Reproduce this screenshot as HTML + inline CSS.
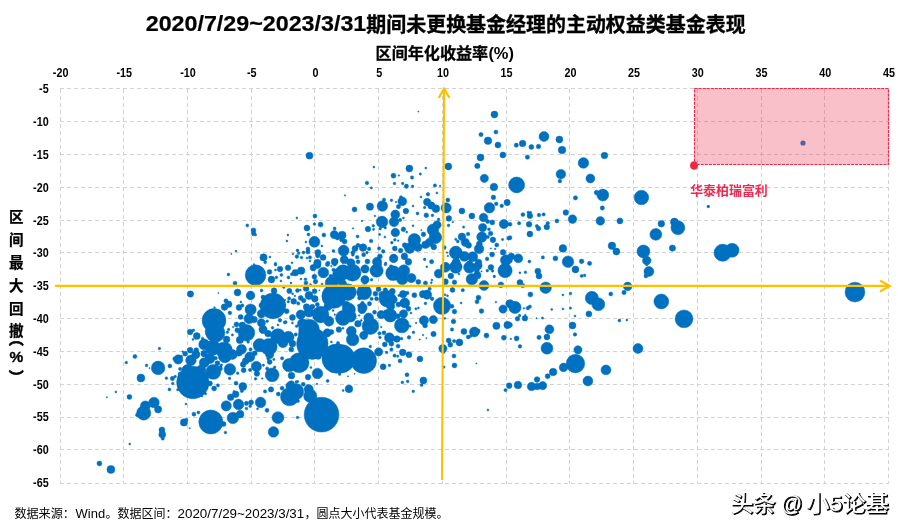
<!DOCTYPE html>
<html lang="zh-CN">
<head>
<meta charset="utf-8">
<title>2020/7/29~2023/3/31期间未更换基金经理的主动权益类基金表现</title>
<style>
html,body{margin:0;padding:0;background:#fff;}
body{width:905px;height:531px;overflow:hidden;position:relative;font-family:"Liberation Sans","Noto Sans CJK SC",sans-serif;}
svg{position:absolute;left:0;top:0;display:block;}
.t{font-family:"Liberation Sans","Noto Sans CJK SC",sans-serif;}
.tick{font-family:"Liberation Sans","Noto Sans CJK SC",sans-serif;font-weight:bold;font-size:12px;fill:#000;}
.grid line{stroke:#d2d2d2;stroke-width:1;stroke-dasharray:4 3;shape-rendering:crispEdges;}
</style>
</head>
<body>
<svg width="905" height="531" viewBox="0 0 905 531">
<rect x="0" y="0" width="905" height="531" fill="#ffffff"/>

<g class="grid">
<line x1="60.5" y1="88.7" x2="60.5" y2="484"/>
<line x1="123.5" y1="88.7" x2="123.5" y2="484"/>
<line x1="187.5" y1="88.7" x2="187.5" y2="484"/>
<line x1="251.5" y1="88.7" x2="251.5" y2="484"/>
<line x1="314.5" y1="88.7" x2="314.5" y2="484"/>
<line x1="378.5" y1="88.7" x2="378.5" y2="484"/>
<line x1="442.5" y1="88.7" x2="442.5" y2="484"/>
<line x1="506.5" y1="88.7" x2="506.5" y2="484"/>
<line x1="569.5" y1="88.7" x2="569.5" y2="484"/>
<line x1="633.5" y1="88.7" x2="633.5" y2="484"/>
<line x1="697.5" y1="88.7" x2="697.5" y2="484"/>
<line x1="761.5" y1="88.7" x2="761.5" y2="484"/>
<line x1="824.5" y1="88.7" x2="824.5" y2="484"/>
<line x1="888.5" y1="88.7" x2="888.5" y2="484"/>
<line x1="60" y1="88.5" x2="889" y2="88.5"/>
<line x1="60" y1="121.5" x2="889" y2="121.5"/>
<line x1="60" y1="154.5" x2="889" y2="154.5"/>
<line x1="60" y1="187.5" x2="889" y2="187.5"/>
<line x1="60" y1="220.5" x2="889" y2="220.5"/>
<line x1="60" y1="252.5" x2="889" y2="252.5"/>
<line x1="60" y1="285.5" x2="889" y2="285.5"/>
<line x1="60" y1="318.5" x2="889" y2="318.5"/>
<line x1="60" y1="351.5" x2="889" y2="351.5"/>
<line x1="60" y1="384.5" x2="889" y2="384.5"/>
<line x1="60" y1="417.5" x2="889" y2="417.5"/>
<line x1="60" y1="449.5" x2="889" y2="449.5"/>
<line x1="60" y1="483.5" x2="889" y2="483.5"/>
</g>
<rect x="694.5" y="88.5" width="194" height="76" fill="#ee3350" fill-opacity="0.31" stroke="none"/>
<rect x="694.5" y="88.5" width="194" height="76" fill="none" stroke="#ed2846" stroke-width="1.2" stroke-dasharray="3 1.06"/>
<text class="tick" x="60.6" y="77" text-anchor="middle" transform="translate(60.6 0) scale(0.9 1) translate(-60.6 0)">-20</text>
<text class="tick" x="124.3" y="77" text-anchor="middle" transform="translate(124.3 0) scale(0.9 1) translate(-124.3 0)">-15</text>
<text class="tick" x="188.0" y="77" text-anchor="middle" transform="translate(188.0 0) scale(0.9 1) translate(-188.0 0)">-10</text>
<text class="tick" x="251.8" y="77" text-anchor="middle" transform="translate(251.8 0) scale(0.9 1) translate(-251.8 0)">-5</text>
<text class="tick" x="315.5" y="77" text-anchor="middle" transform="translate(315.5 0) scale(0.9 1) translate(-315.5 0)">0</text>
<text class="tick" x="379.2" y="77" text-anchor="middle" transform="translate(379.2 0) scale(0.9 1) translate(-379.2 0)">5</text>
<text class="tick" x="442.9" y="77" text-anchor="middle" transform="translate(442.9 0) scale(0.9 1) translate(-442.9 0)">10</text>
<text class="tick" x="506.6" y="77" text-anchor="middle" transform="translate(506.6 0) scale(0.9 1) translate(-506.6 0)">15</text>
<text class="tick" x="570.4" y="77" text-anchor="middle" transform="translate(570.4 0) scale(0.9 1) translate(-570.4 0)">20</text>
<text class="tick" x="634.1" y="77" text-anchor="middle" transform="translate(634.1 0) scale(0.9 1) translate(-634.1 0)">25</text>
<text class="tick" x="697.8" y="77" text-anchor="middle" transform="translate(697.8 0) scale(0.9 1) translate(-697.8 0)">30</text>
<text class="tick" x="761.5" y="77" text-anchor="middle" transform="translate(761.5 0) scale(0.9 1) translate(-761.5 0)">35</text>
<text class="tick" x="825.2" y="77" text-anchor="middle" transform="translate(825.2 0) scale(0.9 1) translate(-825.2 0)">40</text>
<text class="tick" x="889.0" y="77" text-anchor="middle" transform="translate(889.0 0) scale(0.9 1) translate(-889.0 0)">45</text>
<text class="tick" x="48.7" y="93.3" text-anchor="end" transform="translate(48.7 0) scale(0.9 1) translate(-48.7 0)">-5</text>
<text class="tick" x="48.7" y="126.1" text-anchor="end" transform="translate(48.7 0) scale(0.9 1) translate(-48.7 0)">-10</text>
<text class="tick" x="48.7" y="158.9" text-anchor="end" transform="translate(48.7 0) scale(0.9 1) translate(-48.7 0)">-15</text>
<text class="tick" x="48.7" y="191.8" text-anchor="end" transform="translate(48.7 0) scale(0.9 1) translate(-48.7 0)">-20</text>
<text class="tick" x="48.7" y="224.6" text-anchor="end" transform="translate(48.7 0) scale(0.9 1) translate(-48.7 0)">-25</text>
<text class="tick" x="48.7" y="257.4" text-anchor="end" transform="translate(48.7 0) scale(0.9 1) translate(-48.7 0)">-30</text>
<text class="tick" x="48.7" y="290.2" text-anchor="end" transform="translate(48.7 0) scale(0.9 1) translate(-48.7 0)">-35</text>
<text class="tick" x="48.7" y="323.0" text-anchor="end" transform="translate(48.7 0) scale(0.9 1) translate(-48.7 0)">-40</text>
<text class="tick" x="48.7" y="355.9" text-anchor="end" transform="translate(48.7 0) scale(0.9 1) translate(-48.7 0)">-45</text>
<text class="tick" x="48.7" y="388.7" text-anchor="end" transform="translate(48.7 0) scale(0.9 1) translate(-48.7 0)">-50</text>
<text class="tick" x="48.7" y="421.5" text-anchor="end" transform="translate(48.7 0) scale(0.9 1) translate(-48.7 0)">-55</text>
<text class="tick" x="48.7" y="454.3" text-anchor="end" transform="translate(48.7 0) scale(0.9 1) translate(-48.7 0)">-60</text>
<text class="tick" x="48.7" y="487.1" text-anchor="end" transform="translate(48.7 0) scale(0.9 1) translate(-48.7 0)">-65</text>
<path fill="#0070c0" fill-rule="nonzero" stroke="#0070c0" stroke-width="0.5" stroke-linejoin="round" d="M305.97 155.63a3.48 3.48 0 1 0 6.96 0a3.48 3.48 0 1 0 -6.96 0z
M417.75 111.54a0.60 0.60 0 1 0 1.20 0a0.60 0.60 0 1 0 -1.20 0z
M490.95 114.52a3.48 3.48 0 1 0 6.96 0a3.48 3.48 0 1 0 -6.96 0z
M493.93 132.09a1.99 1.99 0 1 0 3.98 0a1.99 1.99 0 1 0 -3.98 0z
M478.85 134.58a2.15 2.15 0 1 0 4.30 0a2.15 2.15 0 1 0 -4.30 0z
M484.15 140.71a3.81 3.81 0 1 0 7.62 0a3.81 3.81 0 1 0 -7.62 0z
M494.93 145.02a2.98 2.98 0 1 0 5.96 0a2.98 2.98 0 1 0 -5.96 0z
M499.90 154.97a2.98 2.98 0 1 0 5.96 0a2.98 2.98 0 1 0 -5.96 0z
M477.02 157.45a3.48 3.48 0 1 0 6.96 0a3.48 3.48 0 1 0 -6.96 0z
M474.70 165.90a2.65 2.65 0 1 0 5.30 0a2.65 2.65 0 1 0 -5.30 0z
M444.87 166.40a3.48 3.48 0 1 0 6.96 0a3.48 3.48 0 1 0 -6.96 0z
M405.91 168.56a3.48 3.48 0 1 0 6.96 0a3.48 3.48 0 1 0 -6.96 0z
M424.81 168.06a0.99 0.99 0 1 0 1.98 0a0.99 0.99 0 1 0 -1.98 0z
M372.93 167.07a0.99 0.99 0 1 0 1.98 0a0.99 0.99 0 1 0 -1.98 0z
M419.17 174.03a1.16 1.16 0 1 0 2.32 0a1.16 1.16 0 1 0 -2.32 0z
M539.01 136.57a4.97 4.97 0 1 0 9.94 0a4.97 4.97 0 1 0 -9.94 0z
M555.91 139.55a3.48 3.48 0 1 0 6.96 0a3.48 3.48 0 1 0 -6.96 0z
M519.28 143.53a3.32 3.32 0 1 0 6.64 0a3.32 3.32 0 1 0 -6.64 0z
M514.15 145.19a2.15 2.15 0 1 0 4.30 0a2.15 2.15 0 1 0 -4.30 0z
M528.89 147.01a2.49 2.49 0 1 0 4.98 0a2.49 2.49 0 1 0 -4.98 0z
M536.19 146.51a2.32 2.32 0 1 0 4.64 0a2.32 2.32 0 1 0 -4.64 0z
M558.24 149.99a3.81 3.81 0 1 0 7.62 0a3.81 3.81 0 1 0 -7.62 0z
M525.25 157.12a2.15 2.15 0 1 0 4.30 0a2.15 2.15 0 1 0 -4.30 0z
M601.16 155.46a3.32 3.32 0 1 0 6.64 0a3.32 3.32 0 1 0 -6.64 0z
M578.13 162.92a5.30 5.30 0 1 0 10.60 0a5.30 5.30 0 1 0 -10.60 0z
M556.08 174.19a4.81 4.81 0 1 0 9.62 0a4.81 4.81 0 1 0 -9.62 0z
M344.17 195.39a0.75 0.75 0 1 0 1.50 0a0.75 0.75 0 1 0 -1.50 0z
M352.05 209.48a2.49 2.49 0 1 0 4.98 0a2.49 2.49 0 1 0 -4.98 0z
M312.93 215.95a1.99 1.99 0 1 0 3.98 0a1.99 1.99 0 1 0 -3.98 0z
M295.87 217.94a0.99 0.99 0 1 0 1.98 0a0.99 0.99 0 1 0 -1.98 0z
M245.80 225.39a1.49 1.49 0 1 0 2.98 0a1.49 1.49 0 1 0 -2.98 0z
M313.10 224.07a1.33 1.33 0 1 0 2.66 0a1.33 1.33 0 1 0 -2.66 0z
M318.07 224.57a2.49 2.49 0 1 0 4.98 0a2.49 2.49 0 1 0 -4.98 0z
M303.99 228.05a2.98 2.98 0 1 0 5.96 0a2.98 2.98 0 1 0 -5.96 0z
M250.94 230.37a2.49 2.49 0 1 0 4.98 0a2.49 2.49 0 1 0 -4.98 0z
M251.27 233.52a2.32 2.32 0 1 0 4.64 0a2.32 2.32 0 1 0 -4.64 0z
M254.42 234.84a1.16 1.16 0 1 0 2.32 0a1.16 1.16 0 1 0 -2.32 0z
M333.16 228.54a1.49 1.49 0 1 0 2.98 0a1.49 1.49 0 1 0 -2.98 0z
M352.30 228.38a0.75 0.75 0 1 0 1.50 0a0.75 0.75 0 1 0 -1.50 0z
M306.97 234.51a1.49 1.49 0 1 0 2.98 0a1.49 1.49 0 1 0 -2.98 0z
M286.91 235.01a0.99 0.99 0 1 0 1.98 0a0.99 0.99 0 1 0 -1.98 0z
M321.88 235.01a1.99 1.99 0 1 0 3.98 0a1.99 1.99 0 1 0 -3.98 0z
M330.18 234.68a4.14 4.14 0 1 0 8.28 0a4.14 4.14 0 1 0 -8.28 0z
M338.13 235.17a3.98 3.98 0 1 0 7.96 0a3.98 3.98 0 1 0 -7.96 0z
M335.31 237.99a1.99 1.99 0 1 0 3.98 0a1.99 1.99 0 1 0 -3.98 0z
M339.45 239.82a1.99 1.99 0 1 0 3.98 0a1.99 1.99 0 1 0 -3.98 0z
M342.10 241.47a2.49 2.49 0 1 0 4.98 0a2.49 2.49 0 1 0 -4.98 0z
M356.03 236.50a1.49 1.49 0 1 0 2.98 0a1.49 1.49 0 1 0 -2.98 0z
M285.92 240.98a0.99 0.99 0 1 0 1.98 0a0.99 0.99 0 1 0 -1.98 0z
M304.98 241.97a0.99 0.99 0 1 0 1.98 0a0.99 0.99 0 1 0 -1.98 0z
M308.96 241.80a5.47 5.47 0 1 0 10.94 0a5.47 5.47 0 1 0 -10.94 0z
M320.89 245.95a0.99 0.99 0 1 0 1.98 0a0.99 0.99 0 1 0 -1.98 0z
M356.03 245.29a1.99 1.99 0 1 0 3.98 0a1.99 1.99 0 1 0 -3.98 0z
M305.97 248.93a1.99 1.99 0 1 0 3.98 0a1.99 1.99 0 1 0 -3.98 0z
M305.81 251.92a2.15 2.15 0 1 0 4.30 0a2.15 2.15 0 1 0 -4.30 0z
M296.03 250.59a1.49 1.49 0 1 0 2.98 0a1.49 1.49 0 1 0 -2.98 0z
M297.35 253.24a1.33 1.33 0 1 0 2.66 0a1.33 1.33 0 1 0 -2.66 0z
M302.00 252.58a1.49 1.49 0 1 0 2.98 0a1.49 1.49 0 1 0 -2.98 0z
M292.05 253.90a0.83 0.83 0 1 0 1.66 0a0.83 0.83 0 1 0 -1.66 0z
M332.00 251.09a1.49 1.49 0 1 0 2.98 0a1.49 1.49 0 1 0 -2.98 0z
M338.13 250.59a5.47 5.47 0 1 0 10.94 0a5.47 5.47 0 1 0 -10.94 0z
M352.06 248.60a2.98 2.98 0 1 0 5.96 0a2.98 2.98 0 1 0 -5.96 0z
M350.89 252.58a1.99 1.99 0 1 0 3.98 0a1.99 1.99 0 1 0 -3.98 0z
M314.93 252.58a2.98 2.98 0 1 0 5.96 0a2.98 2.98 0 1 0 -5.96 0z
M315.42 255.56a2.32 2.32 0 1 0 4.64 0a2.32 2.32 0 1 0 -4.64 0z
M295.04 256.56a1.82 1.82 0 1 0 3.64 0a1.82 1.82 0 1 0 -3.64 0z
M300.17 257.55a1.33 1.33 0 1 0 2.66 0a1.33 1.33 0 1 0 -2.66 0z
M308.29 257.39a1.66 1.66 0 1 0 3.32 0a1.66 1.66 0 1 0 -3.32 0z
M305.98 258.05a0.99 0.99 0 1 0 1.98 0a0.99 0.99 0 1 0 -1.98 0z
M320.06 257.39a2.98 2.98 0 1 0 5.96 0a2.98 2.98 0 1 0 -5.96 0z
M235.03 251.09a0.99 0.99 0 1 0 1.98 0a0.99 0.99 0 1 0 -1.98 0z
M230.78 253.90a0.60 0.60 0 1 0 1.20 0a0.60 0.60 0 1 0 -1.20 0z
M259.89 257.39a3.65 3.65 0 1 0 7.30 0a3.65 3.65 0 1 0 -7.30 0z
M269.01 257.05a0.99 0.99 0 1 0 1.98 0a0.99 0.99 0 1 0 -1.98 0z
M263.71 262.36a1.49 1.49 0 1 0 2.98 0a1.49 1.49 0 1 0 -2.98 0z
M308.96 261.03a0.99 0.99 0 1 0 1.98 0a0.99 0.99 0 1 0 -1.98 0z
M291.06 262.86a0.99 0.99 0 1 0 1.98 0a0.99 0.99 0 1 0 -1.98 0z
M274.31 263.52a1.16 1.16 0 1 0 2.32 0a1.16 1.16 0 1 0 -2.32 0z
M313.76 262.86a3.65 3.65 0 1 0 7.30 0a3.65 3.65 0 1 0 -7.30 0z
M326.03 263.19a1.99 1.99 0 1 0 3.98 0a1.99 1.99 0 1 0 -3.98 0z
M331.17 261.70a3.48 3.48 0 1 0 6.96 0a3.48 3.48 0 1 0 -6.96 0z
M340.12 259.71a4.14 4.14 0 1 0 8.28 0a4.14 4.14 0 1 0 -8.28 0z
M346.75 262.86a4.14 4.14 0 1 0 8.28 0a4.14 4.14 0 1 0 -8.28 0z
M355.37 257.22a1.82 1.82 0 1 0 3.64 0a1.82 1.82 0 1 0 -3.64 0z
M356.03 261.86a1.99 1.99 0 1 0 3.98 0a1.99 1.99 0 1 0 -3.98 0z
M351.39 254.73a1.49 1.49 0 1 0 2.98 0a1.49 1.49 0 1 0 -2.98 0z
M390.99 175.67a2.49 2.49 0 1 0 4.98 0a2.49 2.49 0 1 0 -4.98 0z
M398.12 175.50a0.83 0.83 0 1 0 1.66 0a0.83 0.83 0 1 0 -1.66 0z
M410.39 177.49a1.66 1.66 0 1 0 3.32 0a1.66 1.66 0 1 0 -3.32 0z
M480.18 178.32a4.14 4.14 0 1 0 8.28 0a4.14 4.14 0 1 0 -8.28 0z
M365.14 182.96a1.82 1.82 0 1 0 3.64 0a1.82 1.82 0 1 0 -3.64 0z
M393.15 183.46a1.33 1.33 0 1 0 2.66 0a1.33 1.33 0 1 0 -2.66 0z
M401.27 183.46a1.33 1.33 0 1 0 2.66 0a1.33 1.33 0 1 0 -2.66 0z
M404.26 186.28a2.15 2.15 0 1 0 4.30 0a2.15 2.15 0 1 0 -4.30 0z
M411.21 186.44a1.33 1.33 0 1 0 2.66 0a1.33 1.33 0 1 0 -2.66 0z
M370.11 187.93a1.16 1.16 0 1 0 2.32 0a1.16 1.16 0 1 0 -2.32 0z
M433.26 185.45a1.66 1.66 0 1 0 3.32 0a1.66 1.66 0 1 0 -3.32 0z
M439.23 185.95a0.83 0.83 0 1 0 1.66 0a0.83 0.83 0 1 0 -1.66 0z
M490.12 186.94a3.81 3.81 0 1 0 7.62 0a3.81 3.81 0 1 0 -7.62 0z
M426.14 194.23a1.82 1.82 0 1 0 3.64 0a1.82 1.82 0 1 0 -3.64 0z
M435.92 192.91a0.99 0.99 0 1 0 1.98 0a0.99 0.99 0 1 0 -1.98 0z
M420.01 196.89a0.99 0.99 0 1 0 1.98 0a0.99 0.99 0 1 0 -1.98 0z
M491.11 197.38a2.32 2.32 0 1 0 4.64 0a2.32 2.32 0 1 0 -4.64 0z
M445.86 200.03a1.99 1.99 0 1 0 3.98 0a1.99 1.99 0 1 0 -3.98 0z
M382.37 199.70a1.66 1.66 0 1 0 3.32 0a1.66 1.66 0 1 0 -3.32 0z
M390.16 200.37a1.33 1.33 0 1 0 2.66 0a1.33 1.33 0 1 0 -2.66 0z
M399.45 197.22a1.49 1.49 0 1 0 2.98 0a1.49 1.49 0 1 0 -2.98 0z
M397.79 201.36a4.48 4.48 0 1 0 8.96 0a4.48 4.48 0 1 0 -8.96 0z
M395.14 202.02a0.83 0.83 0 1 0 1.66 0a0.83 0.83 0 1 0 -1.66 0z
M377.08 206.00a5.30 5.30 0 1 0 10.60 0a5.30 5.30 0 1 0 -10.60 0z
M366.30 206.66a3.65 3.65 0 1 0 7.30 0a3.65 3.65 0 1 0 -7.30 0z
M396.31 206.66a2.15 2.15 0 1 0 4.30 0a2.15 2.15 0 1 0 -4.30 0z
M412.05 206.00a0.99 0.99 0 1 0 1.98 0a0.99 0.99 0 1 0 -1.98 0z
M423.48 202.02a3.65 3.65 0 1 0 7.30 0a3.65 3.65 0 1 0 -7.30 0z
M427.62 205.50a3.65 3.65 0 1 0 7.30 0a3.65 3.65 0 1 0 -7.30 0z
M432.11 208.65a3.81 3.81 0 1 0 7.62 0a3.81 3.81 0 1 0 -7.62 0z
M423.31 207.49a1.33 1.33 0 1 0 2.66 0a1.33 1.33 0 1 0 -2.66 0z
M441.05 207.82a5.14 5.14 0 1 0 10.28 0a5.14 5.14 0 1 0 -10.28 0z
M504.04 202.52a3.15 3.15 0 1 0 6.30 0a3.15 3.15 0 1 0 -6.30 0z
M494.43 203.85a1.82 1.82 0 1 0 3.64 0a1.82 1.82 0 1 0 -3.64 0z
M499.90 205.84a1.82 1.82 0 1 0 3.64 0a1.82 1.82 0 1 0 -3.64 0z
M484.15 207.82a5.30 5.30 0 1 0 10.60 0a5.30 5.30 0 1 0 -10.60 0z
M458.96 210.97a2.98 2.98 0 1 0 5.96 0a2.98 2.98 0 1 0 -5.96 0z
M403.09 210.97a2.82 2.82 0 1 0 5.64 0a2.82 2.82 0 1 0 -5.64 0z
M390.83 214.46a4.48 4.48 0 1 0 8.96 0a4.48 4.48 0 1 0 -8.96 0z
M416.03 213.46a1.49 1.49 0 1 0 2.98 0a1.49 1.49 0 1 0 -2.98 0z
M423.98 215.28a2.32 2.32 0 1 0 4.64 0a2.32 2.32 0 1 0 -4.64 0z
M431.10 215.45a1.33 1.33 0 1 0 2.66 0a1.33 1.33 0 1 0 -2.66 0z
M468.90 215.95a2.98 2.98 0 1 0 5.96 0a2.98 2.98 0 1 0 -5.96 0z
M479.18 217.44a4.31 4.31 0 1 0 8.62 0a4.31 4.31 0 1 0 -8.62 0z
M446.02 218.43a2.82 2.82 0 1 0 5.64 0a2.82 2.82 0 1 0 -5.64 0z
M374.09 215.95a0.83 0.83 0 1 0 1.66 0a0.83 0.83 0 1 0 -1.66 0z
M361.16 220.92a0.83 0.83 0 1 0 1.66 0a0.83 0.83 0 1 0 -1.66 0z
M376.25 221.91a5.80 5.80 0 1 0 11.60 0a5.80 5.80 0 1 0 -11.60 0z
M389.17 221.91a4.81 4.81 0 1 0 9.62 0a4.81 4.81 0 1 0 -9.62 0z
M398.45 219.93a1.66 1.66 0 1 0 3.32 0a1.66 1.66 0 1 0 -3.32 0z
M402.44 217.94a0.99 0.99 0 1 0 1.98 0a0.99 0.99 0 1 0 -1.98 0z
M437.24 219.43a1.33 1.33 0 1 0 2.66 0a1.33 1.33 0 1 0 -2.66 0z
M485.64 221.58a1.99 1.99 0 1 0 3.98 0a1.99 1.99 0 1 0 -3.98 0z
M489.78 222.41a2.49 2.49 0 1 0 4.98 0a2.49 2.49 0 1 0 -4.98 0z
M499.24 224.07a4.64 4.64 0 1 0 9.28 0a4.64 4.64 0 1 0 -9.28 0z
M451.99 222.08a0.83 0.83 0 1 0 1.66 0a0.83 0.83 0 1 0 -1.66 0z
M447.18 225.39a1.33 1.33 0 1 0 2.66 0a1.33 1.33 0 1 0 -2.66 0z
M412.05 225.73a0.99 0.99 0 1 0 1.98 0a0.99 0.99 0 1 0 -1.98 0z
M371.93 225.73a1.33 1.33 0 1 0 2.66 0a1.33 1.33 0 1 0 -2.66 0z
M365.14 229.04a2.82 2.82 0 1 0 5.64 0a2.82 2.82 0 1 0 -5.64 0z
M372.43 229.37a1.16 1.16 0 1 0 2.32 0a1.16 1.16 0 1 0 -2.32 0z
M378.89 228.71a1.33 1.33 0 1 0 2.66 0a1.33 1.33 0 1 0 -2.66 0z
M383.86 227.72a1.33 1.33 0 1 0 2.66 0a1.33 1.33 0 1 0 -2.66 0z
M401.11 229.37a2.32 2.32 0 1 0 4.64 0a2.32 2.32 0 1 0 -4.64 0z
M405.75 232.03a0.99 0.99 0 1 0 1.98 0a0.99 0.99 0 1 0 -1.98 0z
M462.44 227.05a1.16 1.16 0 1 0 2.32 0a1.16 1.16 0 1 0 -2.32 0z
M478.52 227.55a4.14 4.14 0 1 0 8.28 0a4.14 4.14 0 1 0 -8.28 0z
M487.47 229.37a1.49 1.49 0 1 0 2.98 0a1.49 1.49 0 1 0 -2.98 0z
M488.29 233.52a2.32 2.32 0 1 0 4.64 0a2.32 2.32 0 1 0 -4.64 0z
M391.00 232.52a4.31 4.31 0 1 0 8.62 0a4.31 4.31 0 1 0 -8.62 0z
M378.40 234.51a1.16 1.16 0 1 0 2.32 0a1.16 1.16 0 1 0 -2.32 0z
M383.87 237.00a0.99 0.99 0 1 0 1.98 0a0.99 0.99 0 1 0 -1.98 0z
M421.16 234.35a2.32 2.32 0 1 0 4.64 0a2.32 2.32 0 1 0 -4.64 0z
M420.67 230.20a0.66 0.66 0 1 0 1.32 0a0.66 0.66 0 1 0 -1.32 0z
M432.94 224.90a4.14 4.14 0 1 0 8.28 0a4.14 4.14 0 1 0 -8.28 0z
M427.13 229.87a5.80 5.80 0 1 0 11.60 0a5.80 5.80 0 1 0 -11.60 0z
M429.12 237.33a6.30 6.30 0 1 0 12.60 0a6.30 6.30 0 1 0 -12.60 0z
M425.48 242.30a4.14 4.14 0 1 0 8.28 0a4.14 4.14 0 1 0 -8.28 0z
M430.94 246.94a2.82 2.82 0 1 0 5.64 0a2.82 2.82 0 1 0 -5.64 0z
M421.66 244.79a3.81 3.81 0 1 0 7.62 0a3.81 3.81 0 1 0 -7.62 0z
M408.07 239.82a6.30 6.30 0 1 0 12.60 0a6.30 6.30 0 1 0 -12.60 0z
M413.87 247.27a4.14 4.14 0 1 0 8.28 0a4.14 4.14 0 1 0 -8.28 0z
M404.43 248.10a5.30 5.30 0 1 0 10.60 0a5.30 5.30 0 1 0 -10.60 0z
M402.26 245.29a2.49 2.49 0 1 0 4.98 0a2.49 2.49 0 1 0 -4.98 0z
M466.25 234.01a1.82 1.82 0 1 0 3.64 0a1.82 1.82 0 1 0 -3.64 0z
M458.13 236.83a3.81 3.81 0 1 0 7.62 0a3.81 3.81 0 1 0 -7.62 0z
M476.69 237.00a5.14 5.14 0 1 0 10.28 0a5.14 5.14 0 1 0 -10.28 0z
M486.47 237.00a1.49 1.49 0 1 0 2.98 0a1.49 1.49 0 1 0 -2.98 0z
M490.12 239.82a2.82 2.82 0 1 0 5.64 0a2.82 2.82 0 1 0 -5.64 0z
M501.39 239.48a1.16 1.16 0 1 0 2.32 0a1.16 1.16 0 1 0 -2.32 0z
M506.86 238.16a1.99 1.99 0 1 0 3.98 0a1.99 1.99 0 1 0 -3.98 0z
M454.65 239.32a1.16 1.16 0 1 0 2.32 0a1.16 1.16 0 1 0 -2.32 0z
M456.31 241.47a1.49 1.49 0 1 0 2.98 0a1.49 1.49 0 1 0 -2.98 0z
M461.11 242.30a4.14 4.14 0 1 0 8.28 0a4.14 4.14 0 1 0 -8.28 0z
M465.59 245.29a2.98 2.98 0 1 0 5.96 0a2.98 2.98 0 1 0 -5.96 0z
M476.36 243.96a2.98 2.98 0 1 0 5.96 0a2.98 2.98 0 1 0 -5.96 0z
M474.20 248.93a4.81 4.81 0 1 0 9.62 0a4.81 4.81 0 1 0 -9.62 0z
M494.76 244.95a1.99 1.99 0 1 0 3.98 0a1.99 1.99 0 1 0 -3.98 0z
M369.29 240.98a1.82 1.82 0 1 0 3.64 0a1.82 1.82 0 1 0 -3.64 0z
M390.49 242.63a1.33 1.33 0 1 0 2.66 0a1.33 1.33 0 1 0 -2.66 0z
M393.48 239.82a1.33 1.33 0 1 0 2.66 0a1.33 1.33 0 1 0 -2.66 0z
M397.29 240.64a0.83 0.83 0 1 0 1.66 0a0.83 0.83 0 1 0 -1.66 0z
M359.17 247.61a3.81 3.81 0 1 0 7.62 0a3.81 3.81 0 1 0 -7.62 0z
M367.30 248.93a1.82 1.82 0 1 0 3.64 0a1.82 1.82 0 1 0 -3.64 0z
M377.40 248.43a1.66 1.66 0 1 0 3.32 0a1.66 1.66 0 1 0 -3.32 0z
M392.32 248.60a2.49 2.49 0 1 0 4.98 0a2.49 2.49 0 1 0 -4.98 0z
M398.29 250.59a2.32 2.32 0 1 0 4.64 0a2.32 2.32 0 1 0 -4.64 0z
M381.39 251.42a1.82 1.82 0 1 0 3.64 0a1.82 1.82 0 1 0 -3.64 0z
M365.63 252.58a1.33 1.33 0 1 0 2.66 0a1.33 1.33 0 1 0 -2.66 0z
M361.66 254.73a1.99 1.99 0 1 0 3.98 0a1.99 1.99 0 1 0 -3.98 0z
M377.40 256.39a2.49 2.49 0 1 0 4.98 0a2.49 2.49 0 1 0 -4.98 0z
M442.21 247.61a1.99 1.99 0 1 0 3.98 0a1.99 1.99 0 1 0 -3.98 0z
M446.19 252.58a0.83 0.83 0 1 0 1.66 0a0.83 0.83 0 1 0 -1.66 0z
M449.35 252.58a6.46 6.46 0 1 0 12.92 0a6.46 6.46 0 1 0 -12.92 0z
M459.46 256.39a4.97 4.97 0 1 0 9.94 0a4.97 4.97 0 1 0 -9.94 0z
M467.74 256.72a4.97 4.97 0 1 0 9.94 0a4.97 4.97 0 1 0 -9.94 0z
M500.23 252.25a2.82 2.82 0 1 0 5.64 0a2.82 2.82 0 1 0 -5.64 0z
M489.62 254.57a2.49 2.49 0 1 0 4.98 0a2.49 2.49 0 1 0 -4.98 0z
M490.29 248.43a0.66 0.66 0 1 0 1.32 0a0.66 0.66 0 1 0 -1.32 0z
M494.26 248.93a0.83 0.83 0 1 0 1.66 0a0.83 0.83 0 1 0 -1.66 0z
M485.31 258.88a1.82 1.82 0 1 0 3.64 0a1.82 1.82 0 1 0 -3.64 0z
M500.39 260.20a5.47 5.47 0 1 0 10.94 0a5.47 5.47 0 1 0 -10.94 0z
M401.10 256.39a3.32 3.32 0 1 0 6.64 0a3.32 3.32 0 1 0 -6.64 0z
M389.34 258.38a4.31 4.31 0 1 0 8.62 0a4.31 4.31 0 1 0 -8.62 0z
M372.43 261.86a4.64 4.64 0 1 0 9.28 0a4.64 4.64 0 1 0 -9.28 0z
M364.97 261.53a2.49 2.49 0 1 0 4.98 0a2.49 2.49 0 1 0 -4.98 0z
M405.08 261.86a3.32 3.32 0 1 0 6.64 0a3.32 3.32 0 1 0 -6.64 0z
M423.31 259.37a1.33 1.33 0 1 0 2.66 0a1.33 1.33 0 1 0 -2.66 0z
M429.46 261.70a2.15 2.15 0 1 0 4.30 0a2.15 2.15 0 1 0 -4.30 0z
M384.53 263.19a1.16 1.16 0 1 0 2.32 0a1.16 1.16 0 1 0 -2.32 0z
M452.00 262.19a4.14 4.14 0 1 0 8.28 0a4.14 4.14 0 1 0 -8.28 0z
M475.19 262.52a3.32 3.32 0 1 0 6.64 0a3.32 3.32 0 1 0 -6.64 0z
M466.91 263.02a2.49 2.49 0 1 0 4.98 0a2.49 2.49 0 1 0 -4.98 0z
M447.02 256.06a0.83 0.83 0 1 0 1.66 0a0.83 0.83 0 1 0 -1.66 0z
M585.91 178.49a4.48 4.48 0 1 0 8.96 0a4.48 4.48 0 1 0 -8.96 0z
M508.67 184.95a7.96 7.96 0 1 0 15.92 0a7.96 7.96 0 1 0 -15.92 0z
M558.07 181.14a1.82 1.82 0 1 0 3.64 0a1.82 1.82 0 1 0 -3.64 0z
M573.32 197.88a2.15 2.15 0 1 0 4.30 0a2.15 2.15 0 1 0 -4.30 0z
M594.20 192.58a2.32 2.32 0 1 0 4.64 0a2.32 2.32 0 1 0 -4.64 0z
M596.85 195.06a5.97 5.97 0 1 0 11.94 0a5.97 5.97 0 1 0 -11.94 0z
M634.15 197.55a7.29 7.29 0 1 0 14.58 0a7.29 7.29 0 1 0 -14.58 0z
M600.18 207.99a2.15 2.15 0 1 0 4.30 0a2.15 2.15 0 1 0 -4.30 0z
M563.04 212.47a2.82 2.82 0 1 0 5.64 0a2.82 2.82 0 1 0 -5.64 0z
M520.94 214.62a1.99 1.99 0 1 0 3.98 0a1.99 1.99 0 1 0 -3.98 0z
M526.90 212.47a1.33 1.33 0 1 0 2.66 0a1.33 1.33 0 1 0 -2.66 0z
M529.39 212.47a1.16 1.16 0 1 0 2.32 0a1.16 1.16 0 1 0 -2.32 0z
M527.07 215.78a2.82 2.82 0 1 0 5.64 0a2.82 2.82 0 1 0 -5.64 0z
M537.19 215.12a1.82 1.82 0 1 0 3.64 0a1.82 1.82 0 1 0 -3.64 0z
M541.99 214.46a1.66 1.66 0 1 0 3.32 0a1.66 1.66 0 1 0 -3.32 0z
M568.18 219.10a4.31 4.31 0 1 0 8.62 0a4.31 4.31 0 1 0 -8.62 0z
M596.03 220.92a4.31 4.31 0 1 0 8.62 0a4.31 4.31 0 1 0 -8.62 0z
M616.92 220.92a2.98 2.98 0 1 0 5.96 0a2.98 2.98 0 1 0 -5.96 0z
M554.92 220.92a1.99 1.99 0 1 0 3.98 0a1.99 1.99 0 1 0 -3.98 0z
M508.01 224.23a1.99 1.99 0 1 0 3.98 0a1.99 1.99 0 1 0 -3.98 0z
M517.46 223.24a1.66 1.66 0 1 0 3.32 0a1.66 1.66 0 1 0 -3.32 0z
M526.24 224.23a2.82 2.82 0 1 0 5.64 0a2.82 2.82 0 1 0 -5.64 0z
M545.97 223.24a1.82 1.82 0 1 0 3.64 0a1.82 1.82 0 1 0 -3.64 0z
M543.98 227.05a2.82 2.82 0 1 0 5.64 0a2.82 2.82 0 1 0 -5.64 0z
M535.19 226.06a1.66 1.66 0 1 0 3.32 0a1.66 1.66 0 1 0 -3.32 0z
M536.19 228.54a2.32 2.32 0 1 0 4.64 0a2.32 2.32 0 1 0 -4.64 0z
M526.91 234.01a2.98 2.98 0 1 0 5.96 0a2.98 2.98 0 1 0 -5.96 0z
M508.01 237.66a1.99 1.99 0 1 0 3.98 0a1.99 1.99 0 1 0 -3.98 0z
M649.89 234.35a5.97 5.97 0 1 0 11.94 0a5.97 5.97 0 1 0 -11.94 0z
M559.07 248.43a3.81 3.81 0 1 0 7.62 0a3.81 3.81 0 1 0 -7.62 0z
M608.13 245.78a3.81 3.81 0 1 0 7.62 0a3.81 3.81 0 1 0 -7.62 0z
M612.93 251.58a3.48 3.48 0 1 0 6.96 0a3.48 3.48 0 1 0 -6.96 0z
M636.97 251.42a6.46 6.46 0 1 0 12.92 0a6.46 6.46 0 1 0 -12.92 0z
M642.44 260.54a4.31 4.31 0 1 0 8.62 0a4.31 4.31 0 1 0 -8.62 0z
M513.81 258.38a4.48 4.48 0 1 0 8.96 0a4.48 4.48 0 1 0 -8.96 0z
M508.01 256.39a3.32 3.32 0 1 0 6.64 0a3.32 3.32 0 1 0 -6.64 0z
M507.51 260.54a2.49 2.49 0 1 0 4.98 0a2.49 2.49 0 1 0 -4.98 0z
M541.16 257.39a1.66 1.66 0 1 0 3.32 0a1.66 1.66 0 1 0 -3.32 0z
M552.93 258.38a2.49 2.49 0 1 0 4.98 0a2.49 2.49 0 1 0 -4.98 0z
M562.21 261.70a5.80 5.80 0 1 0 11.60 0a5.80 5.80 0 1 0 -11.60 0z
M579.29 261.36a2.32 2.32 0 1 0 4.64 0a2.32 2.32 0 1 0 -4.64 0z
M587.41 263.35a2.15 2.15 0 1 0 4.30 0a2.15 2.15 0 1 0 -4.30 0z
M527.90 261.53a1.49 1.49 0 1 0 2.98 0a1.49 1.49 0 1 0 -2.98 0z
M707.24 206.50a1.16 1.16 0 1 0 2.32 0a1.16 1.16 0 1 0 -2.32 0z
M658.01 223.74a3.32 3.32 0 1 0 6.64 0a3.32 3.32 0 1 0 -6.64 0z
M670.44 222.08a3.98 3.98 0 1 0 7.96 0a3.98 3.98 0 1 0 -7.96 0z
M670.94 227.72a6.96 6.96 0 1 0 13.92 0a6.96 6.96 0 1 0 -13.92 0z
M669.28 248.10a3.15 3.15 0 1 0 6.30 0a3.15 3.15 0 1 0 -6.30 0z
M714.04 252.74a8.62 8.62 0 1 0 17.24 0a8.62 8.62 0 1 0 -17.24 0z
M725.14 250.26a6.96 6.96 0 1 0 13.92 0a6.96 6.96 0 1 0 -13.92 0z
M845.00 292.10a9.95 9.95 0 1 0 19.90 0a9.95 9.95 0 1 0 -19.90 0z
M187.30 294.00a3.15 3.15 0 1 0 6.30 0a3.15 3.15 0 1 0 -6.30 0z
M158.12 348.54a1.33 1.33 0 1 0 2.66 0a1.33 1.33 0 1 0 -2.66 0z
M187.30 331.96a2.82 2.82 0 1 0 5.64 0a2.82 2.82 0 1 0 -5.64 0z
M193.27 336.10a3.48 3.48 0 1 0 6.96 0a3.48 3.48 0 1 0 -6.96 0z
M192.10 330.30a1.33 1.33 0 1 0 2.66 0a1.33 1.33 0 1 0 -2.66 0z
M191.95 339.42a0.99 0.99 0 1 0 1.98 0a0.99 0.99 0 1 0 -1.98 0z
M198.74 344.39a5.47 5.47 0 1 0 10.94 0a5.47 5.47 0 1 0 -10.94 0z
M201.22 338.59a1.33 1.33 0 1 0 2.66 0a1.33 1.33 0 1 0 -2.66 0z
M187.30 350.19a2.82 2.82 0 1 0 5.64 0a2.82 2.82 0 1 0 -5.64 0z
M193.76 350.19a2.49 2.49 0 1 0 4.98 0a2.49 2.49 0 1 0 -4.98 0z
M181.83 351.52a0.83 0.83 0 1 0 1.66 0a0.83 0.83 0 1 0 -1.66 0z
M245.22 275.19a10.36 10.36 0 1 0 20.72 0a10.36 10.36 0 1 0 -20.72 0z
M253.09 264.41a0.83 0.83 0 1 0 1.66 0a0.83 0.83 0 1 0 -1.66 0z
M226.99 274.52a1.41 1.41 0 1 0 2.82 0a1.41 1.41 0 1 0 -2.82 0z
M233.04 283.23a1.99 1.99 0 1 0 3.98 0a1.99 1.99 0 1 0 -3.98 0z
M267.10 271.96a2.40 2.40 0 1 0 4.80 0a2.40 2.40 0 1 0 -4.80 0z
M268.09 279.50a3.40 3.40 0 1 0 6.80 0a3.40 3.40 0 1 0 -6.80 0z
M277.21 268.97a2.82 2.82 0 1 0 5.64 0a2.82 2.82 0 1 0 -5.64 0z
M274.06 264.66a1.41 1.41 0 1 0 2.82 0a1.41 1.41 0 1 0 -2.82 0z
M274.48 269.97a0.99 0.99 0 1 0 1.98 0a0.99 0.99 0 1 0 -1.98 0z
M279.94 275.02a1.49 1.49 0 1 0 2.98 0a1.49 1.49 0 1 0 -2.98 0z
M275.13 277.43a1.33 1.33 0 1 0 2.66 0a1.33 1.33 0 1 0 -2.66 0z
M279.95 280.99a0.99 0.99 0 1 0 1.98 0a0.99 0.99 0 1 0 -1.98 0z
M282.51 287.20a1.24 1.24 0 1 0 2.48 0a1.24 1.24 0 1 0 -2.48 0z
M234.11 292.51a3.40 3.40 0 1 0 6.80 0a3.40 3.40 0 1 0 -6.80 0z
M217.85 293.00a0.60 0.60 0 1 0 1.20 0a0.60 0.60 0 1 0 -1.20 0z
M246.13 295.49a4.39 4.39 0 1 0 8.78 0a4.39 4.39 0 1 0 -8.78 0z
M260.14 290.52a1.41 1.41 0 1 0 2.82 0a1.41 1.41 0 1 0 -2.82 0z
M271.16 290.68a2.90 2.90 0 1 0 5.80 0a2.90 2.90 0 1 0 -5.80 0z
M260.14 305.85a12.84 12.84 0 1 0 25.68 0a12.84 12.84 0 1 0 -25.68 0z
M260.97 297.15a2.07 2.07 0 1 0 4.14 0a2.07 2.07 0 1 0 -4.14 0z
M258.89 305.44a2.49 2.49 0 1 0 4.98 0a2.49 2.49 0 1 0 -4.98 0z
M239.84 301.95a0.99 0.99 0 1 0 1.98 0a0.99 0.99 0 1 0 -1.98 0z
M223.84 300.88a2.07 2.07 0 1 0 4.14 0a2.07 2.07 0 1 0 -4.14 0z
M225.34 304.19a3.31 3.31 0 1 0 6.62 0a3.31 3.31 0 1 0 -6.62 0z
M221.19 307.09a3.31 3.31 0 1 0 6.62 0a3.31 3.31 0 1 0 -6.62 0z
M240.66 305.44a1.66 1.66 0 1 0 3.32 0a1.66 1.66 0 1 0 -3.32 0z
M236.10 307.51a2.90 2.90 0 1 0 5.80 0a2.90 2.90 0 1 0 -5.80 0z
M213.73 307.51a0.83 0.83 0 1 0 1.66 0a0.83 0.83 0 1 0 -1.66 0z
M285.25 267.73a2.82 2.82 0 1 0 5.64 0a2.82 2.82 0 1 0 -5.64 0z
M297.43 270.63a3.73 3.73 0 1 0 7.46 0a3.73 3.73 0 1 0 -7.46 0z
M292.05 272.70a3.31 3.31 0 1 0 6.62 0a3.31 3.31 0 1 0 -6.62 0z
M290.31 274.36a1.49 1.49 0 1 0 2.98 0a1.49 1.49 0 1 0 -2.98 0z
M286.99 277.43a1.49 1.49 0 1 0 2.98 0a1.49 1.49 0 1 0 -2.98 0z
M300.00 279.08a0.99 0.99 0 1 0 1.98 0a0.99 0.99 0 1 0 -1.98 0z
M289.98 282.89a0.99 0.99 0 1 0 1.98 0a0.99 0.99 0 1 0 -1.98 0z
M304.06 279.33a1.41 1.41 0 1 0 2.82 0a1.41 1.41 0 1 0 -2.82 0z
M303.98 282.89a1.99 1.99 0 1 0 3.98 0a1.99 1.99 0 1 0 -3.98 0z
M311.93 276.84a2.49 2.49 0 1 0 4.98 0a2.49 2.49 0 1 0 -4.98 0z
M313.18 281.57a2.32 2.32 0 1 0 4.64 0a2.32 2.32 0 1 0 -4.64 0z
M309.53 284.55a0.99 0.99 0 1 0 1.98 0a0.99 0.99 0 1 0 -1.98 0z
M321.05 283.89a0.99 0.99 0 1 0 1.98 0a0.99 0.99 0 1 0 -1.98 0z
M317.98 272.54a5.39 5.39 0 1 0 10.78 0a5.39 5.39 0 1 0 -10.78 0z
M310.03 267.73a3.15 3.15 0 1 0 6.30 0a3.15 3.15 0 1 0 -6.30 0z
M313.59 264.83a3.73 3.73 0 1 0 7.46 0a3.73 3.73 0 1 0 -7.46 0z
M325.36 264.41a2.07 2.07 0 1 0 4.14 0a2.07 2.07 0 1 0 -4.14 0z
M328.92 276.43a2.07 2.07 0 1 0 4.14 0a2.07 2.07 0 1 0 -4.14 0z
M333.06 264.41a1.66 1.66 0 1 0 3.32 0a1.66 1.66 0 1 0 -3.32 0z
M330.58 266.07a0.83 0.83 0 1 0 1.66 0a0.83 0.83 0 1 0 -1.66 0z
M331.82 269.80a1.66 1.66 0 1 0 3.32 0a1.66 1.66 0 1 0 -3.32 0z
M335.55 272.29a7.46 7.46 0 1 0 14.92 0a7.46 7.46 0 1 0 -14.92 0z
M344.05 272.70a8.49 8.49 0 1 0 16.98 0a8.49 8.49 0 1 0 -16.98 0z
M325.19 282.65a6.22 6.22 0 1 0 12.44 0a6.22 6.22 0 1 0 -12.44 0z
M333.07 281.40a3.31 3.31 0 1 0 6.62 0a3.31 3.31 0 1 0 -6.62 0z
M339.28 284.30a3.73 3.73 0 1 0 7.46 0a3.73 3.73 0 1 0 -7.46 0z
M286.82 290.93a2.57 2.57 0 1 0 5.14 0a2.57 2.57 0 1 0 -5.14 0z
M295.52 290.52a1.91 1.91 0 1 0 3.82 0a1.91 1.91 0 1 0 -3.82 0z
M299.34 290.10a0.99 0.99 0 1 0 1.98 0a0.99 0.99 0 1 0 -1.98 0z
M303.23 288.45a2.90 2.90 0 1 0 5.80 0a2.90 2.90 0 1 0 -5.80 0z
M312.09 291.35a2.49 2.49 0 1 0 4.98 0a2.49 2.49 0 1 0 -4.98 0z
M318.79 290.35a0.60 0.60 0 1 0 1.20 0a0.60 0.60 0 1 0 -1.20 0z
M291.63 293.83a0.99 0.99 0 1 0 1.98 0a0.99 0.99 0 1 0 -1.98 0z
M294.11 295.91a0.83 0.83 0 1 0 1.66 0a0.83 0.83 0 1 0 -1.66 0z
M305.05 295.49a3.98 3.98 0 1 0 7.96 0a3.98 3.98 0 1 0 -7.96 0z
M298.26 297.98a2.49 2.49 0 1 0 4.98 0a2.49 2.49 0 1 0 -4.98 0z
M301.33 300.46a2.32 2.32 0 1 0 4.64 0a2.32 2.32 0 1 0 -4.64 0z
M287.48 298.39a1.66 1.66 0 1 0 3.32 0a1.66 1.66 0 1 0 -3.32 0z
M290.80 301.29a2.90 2.90 0 1 0 5.80 0a2.90 2.90 0 1 0 -5.80 0z
M296.60 303.36a1.66 1.66 0 1 0 3.32 0a1.66 1.66 0 1 0 -3.32 0z
M287.07 301.71a1.24 1.24 0 1 0 2.48 0a1.24 1.24 0 1 0 -2.48 0z
M284.17 300.05a0.83 0.83 0 1 0 1.66 0a0.83 0.83 0 1 0 -1.66 0z
M284.17 304.61a0.83 0.83 0 1 0 1.66 0a0.83 0.83 0 1 0 -1.66 0z
M311.52 298.81a3.31 3.31 0 1 0 6.62 0a3.31 3.31 0 1 0 -6.62 0z
M321.87 296.32a12.02 12.02 0 1 0 24.04 0a12.02 12.02 0 1 0 -24.04 0z
M339.69 292.18a8.29 8.29 0 1 0 16.58 0a8.29 8.29 0 1 0 -16.58 0z
M357.51 297.98a2.07 2.07 0 1 0 4.14 0a2.07 2.07 0 1 0 -4.14 0z
M315.25 304.61a2.07 2.07 0 1 0 4.14 0a2.07 2.07 0 1 0 -4.14 0z
M303.24 307.09a3.31 3.31 0 1 0 6.62 0a3.31 3.31 0 1 0 -6.62 0z
M309.86 306.68a2.49 2.49 0 1 0 4.98 0a2.49 2.49 0 1 0 -4.98 0z
M323.95 306.26a4.14 4.14 0 1 0 8.28 0a4.14 4.14 0 1 0 -8.28 0z
M342.18 305.44a4.14 4.14 0 1 0 8.28 0a4.14 4.14 0 1 0 -8.28 0z
M357.51 305.44a1.24 1.24 0 1 0 2.48 0a1.24 1.24 0 1 0 -2.48 0z
M244.97 309.58a5.64 5.64 0 1 0 11.28 0a5.64 5.64 0 1 0 -11.28 0z
M228.07 312.90a1.82 1.82 0 1 0 3.64 0a1.82 1.82 0 1 0 -3.64 0z
M202.13 320.41a11.89 11.89 0 1 0 23.78 0a11.89 11.89 0 1 0 -23.78 0z
M238.17 317.04a2.49 2.49 0 1 0 4.98 0a2.49 2.49 0 1 0 -4.98 0z
M243.98 318.70a4.97 4.97 0 1 0 9.94 0a4.97 4.97 0 1 0 -9.94 0z
M250.61 319.53a3.32 3.32 0 1 0 6.64 0a3.32 3.32 0 1 0 -6.64 0z
M257.24 313.73a4.14 4.14 0 1 0 8.28 0a4.14 4.14 0 1 0 -8.28 0z
M278.13 320.36a1.82 1.82 0 1 0 3.64 0a1.82 1.82 0 1 0 -3.64 0z
M283.26 322.35a1.66 1.66 0 1 0 3.32 0a1.66 1.66 0 1 0 -3.32 0z
M234.03 324.50a2.49 2.49 0 1 0 4.98 0a2.49 2.49 0 1 0 -4.98 0z
M239.00 325.33a3.32 3.32 0 1 0 6.64 0a3.32 3.32 0 1 0 -6.64 0z
M232.38 326.99a0.83 0.83 0 1 0 1.66 0a0.83 0.83 0 1 0 -1.66 0z
M227.23 329.47a1.33 1.33 0 1 0 2.66 0a1.33 1.33 0 1 0 -2.66 0z
M226.07 332.29a1.33 1.33 0 1 0 2.66 0a1.33 1.33 0 1 0 -2.66 0z
M231.22 334.94a1.16 1.16 0 1 0 2.32 0a1.16 1.16 0 1 0 -2.32 0z
M234.86 330.30a2.49 2.49 0 1 0 4.98 0a2.49 2.49 0 1 0 -4.98 0z
M238.18 332.79a8.29 8.29 0 1 0 16.58 0a8.29 8.29 0 1 0 -16.58 0z
M257.24 322.84a4.14 4.14 0 1 0 8.28 0a4.14 4.14 0 1 0 -8.28 0z
M265.86 321.19a1.33 1.33 0 1 0 2.66 0a1.33 1.33 0 1 0 -2.66 0z
M258.90 329.47a4.14 4.14 0 1 0 8.28 0a4.14 4.14 0 1 0 -8.28 0z
M271.16 327.82a1.33 1.33 0 1 0 2.66 0a1.33 1.33 0 1 0 -2.66 0z
M276.97 325.00a0.99 0.99 0 1 0 1.98 0a0.99 0.99 0 1 0 -1.98 0z
M264.69 333.62a3.32 3.32 0 1 0 6.64 0a3.32 3.32 0 1 0 -6.64 0z
M270.50 336.10a7.46 7.46 0 1 0 14.92 0a7.46 7.46 0 1 0 -14.92 0z
M277.96 342.73a4.97 4.97 0 1 0 9.94 0a4.97 4.97 0 1 0 -9.94 0z
M223.26 339.42a3.32 3.32 0 1 0 6.64 0a3.32 3.32 0 1 0 -6.64 0z
M236.19 339.92a3.65 3.65 0 1 0 7.30 0a3.65 3.65 0 1 0 -7.30 0z
M246.79 341.90a1.33 1.33 0 1 0 2.66 0a1.33 1.33 0 1 0 -2.66 0z
M253.10 345.22a6.63 6.63 0 1 0 13.26 0a6.63 6.63 0 1 0 -13.26 0z
M260.55 346.88a8.29 8.29 0 1 0 16.58 0a8.29 8.29 0 1 0 -16.58 0z
M248.95 349.36a1.66 1.66 0 1 0 3.32 0a1.66 1.66 0 1 0 -3.32 0z
M236.52 349.36a4.97 4.97 0 1 0 9.94 0a4.97 4.97 0 1 0 -9.94 0z
M215.80 350.19a8.29 8.29 0 1 0 16.58 0a8.29 8.29 0 1 0 -16.58 0z
M205.44 347.78a7.46 7.46 0 1 0 14.92 0a7.46 7.46 0 1 0 -14.92 0z
M360.83 268.97a4.14 4.14 0 1 0 8.28 0a4.14 4.14 0 1 0 -8.28 0z
M369.95 270.63a6.63 6.63 0 1 0 13.26 0a6.63 6.63 0 1 0 -13.26 0z
M360.83 279.75a4.14 4.14 0 1 0 8.28 0a4.14 4.14 0 1 0 -8.28 0z
M374.91 264.83a3.32 3.32 0 1 0 6.64 0a3.32 3.32 0 1 0 -6.64 0z
M384.03 264.50a1.33 1.33 0 1 0 2.66 0a1.33 1.33 0 1 0 -2.66 0z
M385.69 273.12a7.46 7.46 0 1 0 14.92 0a7.46 7.46 0 1 0 -14.92 0z
M398.13 270.63a5.80 5.80 0 1 0 11.60 0a5.80 5.80 0 1 0 -11.60 0z
M396.47 278.92a5.80 5.80 0 1 0 11.60 0a5.80 5.80 0 1 0 -11.60 0z
M406.74 278.09a4.64 4.64 0 1 0 9.28 0a4.64 4.64 0 1 0 -9.28 0z
M389.34 266.49a1.66 1.66 0 1 0 3.32 0a1.66 1.66 0 1 0 -3.32 0z
M415.86 281.90a2.49 2.49 0 1 0 4.98 0a2.49 2.49 0 1 0 -4.98 0z
M423.32 283.06a2.15 2.15 0 1 0 4.30 0a2.15 2.15 0 1 0 -4.30 0z
M425.81 266.82a0.99 0.99 0 1 0 1.98 0a0.99 0.99 0 1 0 -1.98 0z
M430.95 280.08a0.99 0.99 0 1 0 1.98 0a0.99 0.99 0 1 0 -1.98 0z
M430.28 282.73a0.99 0.99 0 1 0 1.98 0a0.99 0.99 0 1 0 -1.98 0z
M434.25 273.61a4.48 4.48 0 1 0 8.96 0a4.48 4.48 0 1 0 -8.96 0z
M440.39 267.32a4.97 4.97 0 1 0 9.94 0a4.97 4.97 0 1 0 -9.94 0z
M449.51 266.98a6.30 6.30 0 1 0 12.60 0a6.30 6.30 0 1 0 -12.60 0z
M448.01 275.93a2.82 2.82 0 1 0 5.64 0a2.82 2.82 0 1 0 -5.64 0z
M457.97 273.95a0.99 0.99 0 1 0 1.98 0a0.99 0.99 0 1 0 -1.98 0z
M442.38 281.74a2.98 2.98 0 1 0 5.96 0a2.98 2.98 0 1 0 -5.96 0z
M452.16 282.23a2.32 2.32 0 1 0 4.64 0a2.32 2.32 0 1 0 -4.64 0z
M463.60 267.32a5.80 5.80 0 1 0 11.60 0a5.80 5.80 0 1 0 -11.60 0z
M473.88 265.66a4.14 4.14 0 1 0 8.28 0a4.14 4.14 0 1 0 -8.28 0z
M474.37 270.96a2.49 2.49 0 1 0 4.98 0a2.49 2.49 0 1 0 -4.98 0z
M473.70 275.27a3.65 3.65 0 1 0 7.30 0a3.65 3.65 0 1 0 -7.30 0z
M466.08 279.25a5.80 5.80 0 1 0 11.60 0a5.80 5.80 0 1 0 -11.60 0z
M488.13 267.32a2.82 2.82 0 1 0 5.64 0a2.82 2.82 0 1 0 -5.64 0z
M485.97 270.63a1.33 1.33 0 1 0 2.66 0a1.33 1.33 0 1 0 -2.66 0z
M491.27 270.96a1.33 1.33 0 1 0 2.66 0a1.33 1.33 0 1 0 -2.66 0z
M480.84 271.46a0.66 0.66 0 1 0 1.32 0a0.66 0.66 0 1 0 -1.32 0z
M492.93 276.43a1.33 1.33 0 1 0 2.66 0a1.33 1.33 0 1 0 -2.66 0z
M497.91 270.63a7.13 7.13 0 1 0 14.26 0a7.13 7.13 0 1 0 -14.26 0z
M479.01 285.55a4.97 4.97 0 1 0 9.94 0a4.97 4.97 0 1 0 -9.94 0z
M498.07 284.72a2.82 2.82 0 1 0 5.64 0a2.82 2.82 0 1 0 -5.64 0z
M370.27 279.75a1.33 1.33 0 1 0 2.66 0a1.33 1.33 0 1 0 -2.66 0z
M356.68 292.18a7.46 7.46 0 1 0 14.92 0a7.46 7.46 0 1 0 -14.92 0z
M358.34 288.86a2.49 2.49 0 1 0 4.98 0a2.49 2.49 0 1 0 -4.98 0z
M376.07 289.19a2.49 2.49 0 1 0 4.98 0a2.49 2.49 0 1 0 -4.98 0z
M383.04 290.19a2.32 2.32 0 1 0 4.64 0a2.32 2.32 0 1 0 -4.64 0z
M389.34 291.35a2.98 2.98 0 1 0 5.96 0a2.98 2.98 0 1 0 -5.96 0z
M372.93 293.84a2.49 2.49 0 1 0 4.98 0a2.49 2.49 0 1 0 -4.98 0z
M374.59 298.81a1.99 1.99 0 1 0 3.98 0a1.99 1.99 0 1 0 -3.98 0z
M369.94 298.81a1.66 1.66 0 1 0 3.32 0a1.66 1.66 0 1 0 -3.32 0z
M379.06 298.81a8.29 8.29 0 1 0 16.58 0a8.29 8.29 0 1 0 -16.58 0z
M379.06 294.66a3.32 3.32 0 1 0 6.64 0a3.32 3.32 0 1 0 -6.64 0z
M389.01 299.64a4.14 4.14 0 1 0 8.28 0a4.14 4.14 0 1 0 -8.28 0z
M399.45 294.17a3.65 3.65 0 1 0 7.30 0a3.65 3.65 0 1 0 -7.30 0z
M397.79 295.49a1.16 1.16 0 1 0 2.32 0a1.16 1.16 0 1 0 -2.32 0z
M405.42 293.01a1.82 1.82 0 1 0 3.64 0a1.82 1.82 0 1 0 -3.64 0z
M411.88 295.16a2.49 2.49 0 1 0 4.98 0a2.49 2.49 0 1 0 -4.98 0z
M419.34 294.17a3.65 3.65 0 1 0 7.30 0a3.65 3.65 0 1 0 -7.30 0z
M422.49 294.66a4.64 4.64 0 1 0 9.28 0a4.64 4.64 0 1 0 -9.28 0z
M427.96 288.86a1.66 1.66 0 1 0 3.32 0a1.66 1.66 0 1 0 -3.32 0z
M430.28 298.81a1.82 1.82 0 1 0 3.64 0a1.82 1.82 0 1 0 -3.64 0z
M424.14 303.45a1.33 1.33 0 1 0 2.66 0a1.33 1.33 0 1 0 -2.66 0z
M450.00 290.02a2.49 2.49 0 1 0 4.98 0a2.49 2.49 0 1 0 -4.98 0z
M461.11 290.19a1.66 1.66 0 1 0 3.32 0a1.66 1.66 0 1 0 -3.32 0z
M444.04 294.66a0.99 0.99 0 1 0 1.98 0a0.99 0.99 0 1 0 -1.98 0z
M446.53 295.82a0.99 0.99 0 1 0 1.98 0a0.99 0.99 0 1 0 -1.98 0z
M357.85 307.43a4.64 4.64 0 1 0 9.28 0a4.64 4.64 0 1 0 -9.28 0z
M367.30 303.78a2.15 2.15 0 1 0 4.30 0a2.15 2.15 0 1 0 -4.30 0z
M360.83 302.95a1.66 1.66 0 1 0 3.32 0a1.66 1.66 0 1 0 -3.32 0z
M399.78 302.95a4.97 4.97 0 1 0 9.94 0a4.97 4.97 0 1 0 -9.94 0z
M395.97 304.61a2.49 2.49 0 1 0 4.98 0a2.49 2.49 0 1 0 -4.98 0z
M386.52 306.27a4.14 4.14 0 1 0 8.28 0a4.14 4.14 0 1 0 -8.28 0z
M417.68 307.93a0.83 0.83 0 1 0 1.66 0a0.83 0.83 0 1 0 -1.66 0z
M433.43 305.77a8.62 8.62 0 1 0 17.24 0a8.62 8.62 0 1 0 -17.24 0z
M450.00 306.27a1.99 1.99 0 1 0 3.98 0a1.99 1.99 0 1 0 -3.98 0z
M452.16 311.57a2.32 2.32 0 1 0 4.64 0a2.32 2.32 0 1 0 -4.64 0z
M460.12 302.95a0.99 0.99 0 1 0 1.98 0a0.99 0.99 0 1 0 -1.98 0z
M476.02 297.65a2.49 2.49 0 1 0 4.98 0a2.49 2.49 0 1 0 -4.98 0z
M475.03 301.79a1.99 1.99 0 1 0 3.98 0a1.99 1.99 0 1 0 -3.98 0z
M479.18 311.07a2.32 2.32 0 1 0 4.64 0a2.32 2.32 0 1 0 -4.64 0z
M495.09 302.12a0.83 0.83 0 1 0 1.66 0a0.83 0.83 0 1 0 -1.66 0z
M498.91 309.09a4.14 4.14 0 1 0 8.28 0a4.14 4.14 0 1 0 -8.28 0z
M505.86 303.78a3.32 3.32 0 1 0 6.64 0a3.32 3.32 0 1 0 -6.64 0z
M443.88 318.37a0.99 0.99 0 1 0 1.98 0a0.99 0.99 0 1 0 -1.98 0z
M451.17 321.52a2.32 2.32 0 1 0 4.64 0a2.32 2.32 0 1 0 -4.64 0z
M450.33 329.47a1.66 1.66 0 1 0 3.32 0a1.66 1.66 0 1 0 -3.32 0z
M460.95 331.46a2.98 2.98 0 1 0 5.96 0a2.98 2.98 0 1 0 -5.96 0z
M469.40 331.96a4.97 4.97 0 1 0 9.94 0a4.97 4.97 0 1 0 -9.94 0z
M475.20 331.13a2.49 2.49 0 1 0 4.98 0a2.49 2.49 0 1 0 -4.98 0z
M466.25 336.93a1.99 1.99 0 1 0 3.98 0a1.99 1.99 0 1 0 -3.98 0z
M469.39 336.10a1.33 1.33 0 1 0 2.66 0a1.33 1.33 0 1 0 -2.66 0z
M483.98 335.61a2.49 2.49 0 1 0 4.98 0a2.49 2.49 0 1 0 -4.98 0z
M492.77 325.83a3.65 3.65 0 1 0 7.30 0a3.65 3.65 0 1 0 -7.30 0z
M503.87 325.00a3.65 3.65 0 1 0 7.30 0a3.65 3.65 0 1 0 -7.30 0z
M501.39 337.76a2.49 2.49 0 1 0 4.98 0a2.49 2.49 0 1 0 -4.98 0z
M446.19 340.58a2.49 2.49 0 1 0 4.98 0a2.49 2.49 0 1 0 -4.98 0z
M452.49 341.08a1.66 1.66 0 1 0 3.32 0a1.66 1.66 0 1 0 -3.32 0z
M455.97 342.40a3.48 3.48 0 1 0 6.96 0a3.48 3.48 0 1 0 -6.96 0z
M447.85 344.72a2.49 2.49 0 1 0 4.98 0a2.49 2.49 0 1 0 -4.98 0z
M438.74 348.54a4.14 4.14 0 1 0 8.28 0a4.14 4.14 0 1 0 -8.28 0z
M571.99 269.47a3.48 3.48 0 1 0 6.96 0a3.48 3.48 0 1 0 -6.96 0z
M518.96 272.79a0.99 0.99 0 1 0 1.98 0a0.99 0.99 0 1 0 -1.98 0z
M524.09 272.29a1.33 1.33 0 1 0 2.66 0a1.33 1.33 0 1 0 -2.66 0z
M534.87 271.13a2.98 2.98 0 1 0 5.96 0a2.98 2.98 0 1 0 -5.96 0z
M536.03 275.93a2.98 2.98 0 1 0 5.96 0a2.98 2.98 0 1 0 -5.96 0z
M580.12 275.93a1.49 1.49 0 1 0 2.98 0a1.49 1.49 0 1 0 -2.98 0z
M583.26 275.44a1.33 1.33 0 1 0 2.66 0a1.33 1.33 0 1 0 -2.66 0z
M643.93 271.46a4.97 4.97 0 1 0 9.94 0a4.97 4.97 0 1 0 -9.94 0z
M643.93 275.93a1.99 1.99 0 1 0 3.98 0a1.99 1.99 0 1 0 -3.98 0z
M645.09 264.00a1.66 1.66 0 1 0 3.32 0a1.66 1.66 0 1 0 -3.32 0z
M516.97 282.56a2.98 2.98 0 1 0 5.96 0a2.98 2.98 0 1 0 -5.96 0z
M520.61 285.55a2.15 2.15 0 1 0 4.30 0a2.15 2.15 0 1 0 -4.30 0z
M539.84 287.70a5.80 5.80 0 1 0 11.60 0a5.80 5.80 0 1 0 -11.60 0z
M623.38 286.38a4.31 4.31 0 1 0 8.62 0a4.31 4.31 0 1 0 -8.62 0z
M621.89 292.51a2.15 2.15 0 1 0 4.30 0a2.15 2.15 0 1 0 -4.30 0z
M527.90 294.50a2.49 2.49 0 1 0 4.98 0a2.49 2.49 0 1 0 -4.98 0z
M561.89 295.00a0.99 0.99 0 1 0 1.98 0a0.99 0.99 0 1 0 -1.98 0z
M569.17 293.50a1.33 1.33 0 1 0 2.66 0a1.33 1.33 0 1 0 -2.66 0z
M608.79 294.00a1.99 1.99 0 1 0 3.98 0a1.99 1.99 0 1 0 -3.98 0z
M585.25 297.98a6.63 6.63 0 1 0 13.26 0a6.63 6.63 0 1 0 -13.26 0z
M591.89 304.28a6.46 6.46 0 1 0 12.92 0a6.46 6.46 0 1 0 -12.92 0z
M505.86 303.78a4.14 4.14 0 1 0 8.28 0a4.14 4.14 0 1 0 -8.28 0z
M508.84 307.43a6.13 6.13 0 1 0 12.26 0a6.13 6.13 0 1 0 -12.26 0z
M528.23 306.60a1.66 1.66 0 1 0 3.32 0a1.66 1.66 0 1 0 -3.32 0z
M526.08 308.09a1.82 1.82 0 1 0 3.64 0a1.82 1.82 0 1 0 -3.64 0z
M523.09 308.42a0.83 0.83 0 1 0 1.66 0a0.83 0.83 0 1 0 -1.66 0z
M550.78 309.42a0.99 0.99 0 1 0 1.98 0a0.99 0.99 0 1 0 -1.98 0z
M561.89 308.92a0.99 0.99 0 1 0 1.98 0a0.99 0.99 0 1 0 -1.98 0z
M569.34 308.09a1.16 1.16 0 1 0 2.32 0a1.16 1.16 0 1 0 -2.32 0z
M585.92 313.89a2.98 2.98 0 1 0 5.96 0a2.98 2.98 0 1 0 -5.96 0z
M573.99 316.05a0.99 0.99 0 1 0 1.98 0a0.99 0.99 0 1 0 -1.98 0z
M518.28 315.55a1.33 1.33 0 1 0 2.66 0a1.33 1.33 0 1 0 -2.66 0z
M515.14 318.70a2.32 2.32 0 1 0 4.64 0a2.32 2.32 0 1 0 -4.64 0z
M522.10 318.20a2.82 2.82 0 1 0 5.64 0a2.82 2.82 0 1 0 -5.64 0z
M524.42 315.05a0.83 0.83 0 1 0 1.66 0a0.83 0.83 0 1 0 -1.66 0z
M535.86 318.20a0.66 0.66 0 1 0 1.32 0a0.66 0.66 0 1 0 -1.32 0z
M541.33 318.04a1.16 1.16 0 1 0 2.32 0a1.16 1.16 0 1 0 -2.32 0z
M617.91 320.52a1.49 1.49 0 1 0 2.98 0a1.49 1.49 0 1 0 -2.98 0z
M625.87 320.03a0.99 0.99 0 1 0 1.98 0a0.99 0.99 0 1 0 -1.98 0z
M507.51 325.00a2.49 2.49 0 1 0 4.98 0a2.49 2.49 0 1 0 -4.98 0z
M569.01 325.50a3.48 3.48 0 1 0 6.96 0a3.48 3.48 0 1 0 -6.96 0z
M544.97 329.31a4.48 4.48 0 1 0 8.96 0a4.48 4.48 0 1 0 -8.96 0z
M573.16 334.45a1.82 1.82 0 1 0 3.64 0a1.82 1.82 0 1 0 -3.64 0z
M543.98 336.93a2.98 2.98 0 1 0 5.96 0a2.98 2.98 0 1 0 -5.96 0z
M536.86 337.43a2.15 2.15 0 1 0 4.30 0a2.15 2.15 0 1 0 -4.30 0z
M514.14 338.42a2.49 2.49 0 1 0 4.98 0a2.49 2.49 0 1 0 -4.98 0z
M510.00 338.92a0.83 0.83 0 1 0 1.66 0a0.83 0.83 0 1 0 -1.66 0z
M518.13 346.38a1.82 1.82 0 1 0 3.64 0a1.82 1.82 0 1 0 -3.64 0z
M540.99 348.20a5.97 5.97 0 1 0 11.94 0a5.97 5.97 0 1 0 -11.94 0z
M573.82 349.86a4.14 4.14 0 1 0 8.28 0a4.14 4.14 0 1 0 -8.28 0z
M632.99 348.54a4.97 4.97 0 1 0 9.94 0a4.97 4.97 0 1 0 -9.94 0z
M653.87 301.46a7.46 7.46 0 1 0 14.92 0a7.46 7.46 0 1 0 -14.92 0z
M675.08 318.86a8.95 8.95 0 1 0 17.90 0a8.95 8.95 0 1 0 -17.90 0z
M132.93 356.48a1.99 1.99 0 1 0 3.98 0a1.99 1.99 0 1 0 -3.98 0z
M124.97 362.61a1.33 1.33 0 1 0 2.66 0a1.33 1.33 0 1 0 -2.66 0z
M145.19 365.43a1.33 1.33 0 1 0 2.66 0a1.33 1.33 0 1 0 -2.66 0z
M148.85 368.08a0.66 0.66 0 1 0 1.32 0a0.66 0.66 0 1 0 -1.32 0z
M151.33 367.91a6.80 6.80 0 1 0 13.60 0a6.80 6.80 0 1 0 -13.60 0z
M167.91 365.92a1.99 1.99 0 1 0 3.98 0a1.99 1.99 0 1 0 -3.98 0z
M136.91 378.02a3.98 3.98 0 1 0 7.96 0a3.98 3.98 0 1 0 -7.96 0z
M165.08 378.19a1.33 1.33 0 1 0 2.66 0a1.33 1.33 0 1 0 -2.66 0z
M170.23 378.52a2.15 2.15 0 1 0 4.30 0a2.15 2.15 0 1 0 -4.30 0z
M173.87 376.53a1.33 1.33 0 1 0 2.66 0a1.33 1.33 0 1 0 -2.66 0z
M171.38 383.49a1.33 1.33 0 1 0 2.66 0a1.33 1.33 0 1 0 -2.66 0z
M167.91 389.46a1.49 1.49 0 1 0 2.98 0a1.49 1.49 0 1 0 -2.98 0z
M173.54 359.46a4.64 4.64 0 1 0 9.28 0a4.64 4.64 0 1 0 -9.28 0z
M179.34 356.64a1.66 1.66 0 1 0 3.32 0a1.66 1.66 0 1 0 -3.32 0z
M172.71 358.63a1.66 1.66 0 1 0 3.32 0a1.66 1.66 0 1 0 -3.32 0z
M178.51 368.91a1.66 1.66 0 1 0 3.32 0a1.66 1.66 0 1 0 -3.32 0z
M178.01 374.38a2.49 2.49 0 1 0 4.98 0a2.49 2.49 0 1 0 -4.98 0z
M182.66 353.66a2.49 2.49 0 1 0 4.98 0a2.49 2.49 0 1 0 -4.98 0z
M185.65 360.29a5.30 5.30 0 1 0 10.60 0a5.30 5.30 0 1 0 -10.60 0z
M191.78 354.49a4.14 4.14 0 1 0 8.28 0a4.14 4.14 0 1 0 -8.28 0z
M200.89 353.66a3.32 3.32 0 1 0 6.64 0a3.32 3.32 0 1 0 -6.64 0z
M199.24 362.77a4.97 4.97 0 1 0 9.94 0a4.97 4.97 0 1 0 -9.94 0z
M205.04 358.63a4.97 4.97 0 1 0 9.94 0a4.97 4.97 0 1 0 -9.94 0z
M176.61 382.42a16.24 16.24 0 1 0 32.48 0a16.24 16.24 0 1 0 -32.48 0z
M181.83 370.23a5.80 5.80 0 1 0 11.60 0a5.80 5.80 0 1 0 -11.60 0z
M195.92 370.23a4.97 4.97 0 1 0 9.94 0a4.97 4.97 0 1 0 -9.94 0z
M176.53 389.79a1.16 1.16 0 1 0 2.32 0a1.16 1.16 0 1 0 -2.32 0z
M114.87 391.95a0.99 0.99 0 1 0 1.98 0a0.99 0.99 0 1 0 -1.98 0z
M106.25 397.25a0.66 0.66 0 1 0 1.32 0a0.66 0.66 0 1 0 -1.32 0z
M126.96 396.92a2.49 2.49 0 1 0 4.98 0a2.49 2.49 0 1 0 -4.98 0z
M148.68 402.56a5.30 5.30 0 1 0 10.60 0a5.30 5.30 0 1 0 -10.60 0z
M140.39 405.87a4.97 4.97 0 1 0 9.94 0a4.97 4.97 0 1 0 -9.94 0z
M136.58 413.00a7.13 7.13 0 1 0 14.26 0a7.13 7.13 0 1 0 -14.26 0z
M154.48 409.35a3.65 3.65 0 1 0 7.30 0a3.65 3.65 0 1 0 -7.30 0z
M135.42 414.99a1.66 1.66 0 1 0 3.32 0a1.66 1.66 0 1 0 -3.32 0z
M184.98 404.05a0.99 0.99 0 1 0 1.98 0a0.99 0.99 0 1 0 -1.98 0z
M201.06 395.93a0.99 0.99 0 1 0 1.98 0a0.99 0.99 0 1 0 -1.98 0z
M204.37 393.77a1.16 1.16 0 1 0 2.32 0a1.16 1.16 0 1 0 -2.32 0z
M191.94 414.16a1.99 1.99 0 1 0 3.98 0a1.99 1.99 0 1 0 -3.98 0z
M196.92 412.50a1.49 1.49 0 1 0 2.98 0a1.49 1.49 0 1 0 -2.98 0z
M180.33 422.45a3.65 3.65 0 1 0 7.30 0a3.65 3.65 0 1 0 -7.30 0z
M184.65 419.96a1.66 1.66 0 1 0 3.32 0a1.66 1.66 0 1 0 -3.32 0z
M189.13 428.25a0.66 0.66 0 1 0 1.32 0a0.66 0.66 0 1 0 -1.32 0z
M158.96 429.90a2.98 2.98 0 1 0 5.96 0a2.98 2.98 0 1 0 -5.96 0z
M158.79 434.55a3.48 3.48 0 1 0 6.96 0a3.48 3.48 0 1 0 -6.96 0z
M161.11 438.52a1.66 1.66 0 1 0 3.32 0a1.66 1.66 0 1 0 -3.32 0z
M304.15 414.66a17.40 17.40 0 1 0 34.80 0a17.40 17.40 0 1 0 -34.80 0z
M198.81 421.95a12.02 12.02 0 1 0 24.04 0a12.02 12.02 0 1 0 -24.04 0z
M221.10 424.10a2.49 2.49 0 1 0 4.98 0a2.49 2.49 0 1 0 -4.98 0z
M224.09 432.56a1.33 1.33 0 1 0 2.66 0a1.33 1.33 0 1 0 -2.66 0z
M268.18 431.89a5.30 5.30 0 1 0 10.60 0a5.30 5.30 0 1 0 -10.60 0z
M271.99 417.64a5.97 5.97 0 1 0 11.94 0a5.97 5.97 0 1 0 -11.94 0z
M296.19 417.47a1.33 1.33 0 1 0 2.66 0a1.33 1.33 0 1 0 -2.66 0z
M265.03 410.35a1.99 1.99 0 1 0 3.98 0a1.99 1.99 0 1 0 -3.98 0z
M255.26 402.39a5.30 5.30 0 1 0 10.60 0a5.30 5.30 0 1 0 -10.60 0z
M256.58 408.85a0.99 0.99 0 1 0 1.98 0a0.99 0.99 0 1 0 -1.98 0z
M248.62 402.39a2.49 2.49 0 1 0 4.98 0a2.49 2.49 0 1 0 -4.98 0z
M244.32 403.38a2.15 2.15 0 1 0 4.30 0a2.15 2.15 0 1 0 -4.30 0z
M248.78 406.20a1.33 1.33 0 1 0 2.66 0a1.33 1.33 0 1 0 -2.66 0z
M245.14 408.52a1.33 1.33 0 1 0 2.66 0a1.33 1.33 0 1 0 -2.66 0z
M233.21 404.38a5.30 5.30 0 1 0 10.60 0a5.30 5.30 0 1 0 -10.60 0z
M221.10 405.87a5.14 5.14 0 1 0 10.28 0a5.14 5.14 0 1 0 -10.28 0z
M227.07 417.97a5.80 5.80 0 1 0 11.60 0a5.80 5.80 0 1 0 -11.60 0z
M236.36 414.16a3.81 3.81 0 1 0 7.62 0a3.81 3.81 0 1 0 -7.62 0z
M227.40 397.25a3.32 3.32 0 1 0 6.64 0a3.32 3.32 0 1 0 -6.64 0z
M232.37 394.27a3.32 3.32 0 1 0 6.64 0a3.32 3.32 0 1 0 -6.64 0z
M233.04 391.45a0.99 0.99 0 1 0 1.98 0a0.99 0.99 0 1 0 -1.98 0z
M238.84 386.48a3.98 3.98 0 1 0 7.96 0a3.98 3.98 0 1 0 -7.96 0z
M240.16 390.95a1.66 1.66 0 1 0 3.32 0a1.66 1.66 0 1 0 -3.32 0z
M234.03 383.16a1.99 1.99 0 1 0 3.98 0a1.99 1.99 0 1 0 -3.98 0z
M228.23 378.36a1.33 1.33 0 1 0 2.66 0a1.33 1.33 0 1 0 -2.66 0z
M211.65 388.47a2.49 2.49 0 1 0 4.98 0a2.49 2.49 0 1 0 -4.98 0z
M216.30 385.32a1.66 1.66 0 1 0 3.32 0a1.66 1.66 0 1 0 -3.32 0z
M207.51 383.49a2.49 2.49 0 1 0 4.98 0a2.49 2.49 0 1 0 -4.98 0z
M263.37 391.45a1.66 1.66 0 1 0 3.32 0a1.66 1.66 0 1 0 -3.32 0z
M268.35 389.46a2.65 2.65 0 1 0 5.30 0a2.65 2.65 0 1 0 -5.30 0z
M276.30 394.10a1.99 1.99 0 1 0 3.98 0a1.99 1.99 0 1 0 -3.98 0z
M280.11 388.13a1.99 1.99 0 1 0 3.98 0a1.99 1.99 0 1 0 -3.98 0z
M280.44 396.75a9.12 9.12 0 1 0 18.24 0a9.12 9.12 0 1 0 -18.24 0z
M296.19 400.90a1.66 1.66 0 1 0 3.32 0a1.66 1.66 0 1 0 -3.32 0z
M265.20 374.87a6.96 6.96 0 1 0 13.92 0a6.96 6.96 0 1 0 -13.92 0z
M265.53 368.58a1.66 1.66 0 1 0 3.32 0a1.66 1.66 0 1 0 -3.32 0z
M273.31 367.25a1.33 1.33 0 1 0 2.66 0a1.33 1.33 0 1 0 -2.66 0z
M251.27 366.42a5.14 5.14 0 1 0 10.28 0a5.14 5.14 0 1 0 -10.28 0z
M254.09 373.55a2.82 2.82 0 1 0 5.64 0a2.82 2.82 0 1 0 -5.64 0z
M248.45 369.90a1.66 1.66 0 1 0 3.32 0a1.66 1.66 0 1 0 -3.32 0z
M262.21 365.26a1.16 1.16 0 1 0 2.32 0a1.16 1.16 0 1 0 -2.32 0z
M254.25 378.85a1.33 1.33 0 1 0 2.66 0a1.33 1.33 0 1 0 -2.66 0z
M261.38 378.52a0.83 0.83 0 1 0 1.66 0a0.83 0.83 0 1 0 -1.66 0z
M241.16 370.23a2.49 2.49 0 1 0 4.98 0a2.49 2.49 0 1 0 -4.98 0z
M236.35 373.22a1.33 1.33 0 1 0 2.66 0a1.33 1.33 0 1 0 -2.66 0z
M224.09 369.40a5.80 5.80 0 1 0 11.60 0a5.80 5.80 0 1 0 -11.60 0z
M217.46 368.58a2.49 2.49 0 1 0 4.98 0a2.49 2.49 0 1 0 -4.98 0z
M205.86 371.89a7.46 7.46 0 1 0 14.92 0a7.46 7.46 0 1 0 -14.92 0z
M214.97 363.27a2.49 2.49 0 1 0 4.98 0a2.49 2.49 0 1 0 -4.98 0z
M219.94 365.26a1.33 1.33 0 1 0 2.66 0a1.33 1.33 0 1 0 -2.66 0z
M214.14 358.13a1.66 1.66 0 1 0 3.32 0a1.66 1.66 0 1 0 -3.32 0z
M218.29 356.14a6.63 6.63 0 1 0 13.26 0a6.63 6.63 0 1 0 -13.26 0z
M227.41 354.49a4.97 4.97 0 1 0 9.94 0a4.97 4.97 0 1 0 -9.94 0z
M235.69 352.83a3.32 3.32 0 1 0 6.64 0a3.32 3.32 0 1 0 -6.64 0z
M244.81 356.97a4.97 4.97 0 1 0 9.94 0a4.97 4.97 0 1 0 -9.94 0z
M242.32 361.12a3.32 3.32 0 1 0 6.64 0a3.32 3.32 0 1 0 -6.64 0z
M240.33 364.43a2.82 2.82 0 1 0 5.64 0a2.82 2.82 0 1 0 -5.64 0z
M252.26 353.33a2.49 2.49 0 1 0 4.98 0a2.49 2.49 0 1 0 -4.98 0z
M265.53 354.49a4.14 4.14 0 1 0 8.28 0a4.14 4.14 0 1 0 -8.28 0z
M267.18 361.95a2.49 2.49 0 1 0 4.98 0a2.49 2.49 0 1 0 -4.98 0z
M272.66 359.46a1.16 1.16 0 1 0 2.32 0a1.16 1.16 0 1 0 -2.32 0z
M266.68 358.63a1.33 1.33 0 1 0 2.66 0a1.33 1.33 0 1 0 -2.66 0z
M280.44 358.30a1.66 1.66 0 1 0 3.32 0a1.66 1.66 0 1 0 -3.32 0z
M451.99 355.98a1.99 1.99 0 1 0 3.98 0a1.99 1.99 0 1 0 -3.98 0z
M451.99 365.43a2.49 2.49 0 1 0 4.98 0a2.49 2.49 0 1 0 -4.98 0z
M442.38 367.08a1.33 1.33 0 1 0 2.66 0a1.33 1.33 0 1 0 -2.66 0z
M441.71 352.00a1.66 1.66 0 1 0 3.32 0a1.66 1.66 0 1 0 -3.32 0z
M475.76 363.44a0.60 0.60 0 1 0 1.20 0a0.60 0.60 0 1 0 -1.20 0z
M486.97 410.01a0.99 0.99 0 1 0 1.98 0a0.99 0.99 0 1 0 -1.98 0z
M503.87 390.12a1.66 1.66 0 1 0 3.32 0a1.66 1.66 0 1 0 -3.32 0z
M506.36 385.65a2.82 2.82 0 1 0 5.64 0a2.82 2.82 0 1 0 -5.64 0z
M566.19 363.60a9.28 9.28 0 1 0 18.56 0a9.28 9.28 0 1 0 -18.56 0z
M559.23 367.42a4.31 4.31 0 1 0 8.62 0a4.31 4.31 0 1 0 -8.62 0z
M549.29 372.06a3.81 3.81 0 1 0 7.62 0a3.81 3.81 0 1 0 -7.62 0z
M545.14 376.20a2.49 2.49 0 1 0 4.98 0a2.49 2.49 0 1 0 -4.98 0z
M534.20 379.52a2.82 2.82 0 1 0 5.64 0a2.82 2.82 0 1 0 -5.64 0z
M601.00 369.90a4.97 4.97 0 1 0 9.94 0a4.97 4.97 0 1 0 -9.94 0z
M582.93 381.01a4.97 4.97 0 1 0 9.94 0a4.97 4.97 0 1 0 -9.94 0z
M514.15 384.99a3.81 3.81 0 1 0 7.62 0a3.81 3.81 0 1 0 -7.62 0z
M527.24 386.48a4.31 4.31 0 1 0 8.62 0a4.31 4.31 0 1 0 -8.62 0z
M534.03 386.48a3.32 3.32 0 1 0 6.64 0a3.32 3.32 0 1 0 -6.64 0z
M538.51 385.65a4.14 4.14 0 1 0 8.28 0a4.14 4.14 0 1 0 -8.28 0z
M128.79 443.93a0.99 0.99 0 1 0 1.98 0a0.99 0.99 0 1 0 -1.98 0z
M96.96 463.48a2.49 2.49 0 1 0 4.98 0a2.49 2.49 0 1 0 -4.98 0z
M106.91 469.45a3.98 3.98 0 1 0 7.96 0a3.98 3.98 0 1 0 -7.96 0z
M707.01 206.56a1.22 1.22 0 1 0 2.44 0a1.22 1.22 0 1 0 -2.44 0z
M284.17 311.32a2.49 2.49 0 1 0 4.98 0a2.49 2.49 0 1 0 -4.98 0z
M289.48 317.45a2.98 2.98 0 1 0 5.96 0a2.98 2.98 0 1 0 -5.96 0z
M296.11 314.63a4.64 4.64 0 1 0 9.28 0a4.64 4.64 0 1 0 -9.28 0z
M304.06 312.14a4.97 4.97 0 1 0 9.94 0a4.97 4.97 0 1 0 -9.94 0z
M312.35 314.63a8.29 8.29 0 1 0 16.58 0a8.29 8.29 0 1 0 -16.58 0z
M323.96 321.26a4.97 4.97 0 1 0 9.94 0a4.97 4.97 0 1 0 -9.94 0z
M312.35 323.75a1.66 1.66 0 1 0 3.32 0a1.66 1.66 0 1 0 -3.32 0z
M332.08 310.49a0.99 0.99 0 1 0 1.98 0a0.99 0.99 0 1 0 -1.98 0z
M333.90 314.63a0.83 0.83 0 1 0 1.66 0a0.83 0.83 0 1 0 -1.66 0z
M335.55 317.95a7.46 7.46 0 1 0 14.92 0a7.46 7.46 0 1 0 -14.92 0z
M344.67 316.29a5.80 5.80 0 1 0 11.60 0a5.80 5.80 0 1 0 -11.60 0z
M342.19 309.66a6.63 6.63 0 1 0 13.26 0a6.63 6.63 0 1 0 -13.26 0z
M354.61 323.75a3.32 3.32 0 1 0 6.64 0a3.32 3.32 0 1 0 -6.64 0z
M357.94 309.66a4.14 4.14 0 1 0 8.28 0a4.14 4.14 0 1 0 -8.28 0z
M358.26 315.46a0.83 0.83 0 1 0 1.66 0a0.83 0.83 0 1 0 -1.66 0z
M360.26 320.43a0.99 0.99 0 1 0 1.98 0a0.99 0.99 0 1 0 -1.98 0z
M372.52 312.14a1.99 1.99 0 1 0 3.98 0a1.99 1.99 0 1 0 -3.98 0z
M363.74 317.95a4.97 4.97 0 1 0 9.94 0a4.97 4.97 0 1 0 -9.94 0z
M362.07 326.23a8.29 8.29 0 1 0 16.58 0a8.29 8.29 0 1 0 -16.58 0z
M359.59 335.35a4.14 4.14 0 1 0 8.28 0a4.14 4.14 0 1 0 -8.28 0z
M377.00 314.63a4.14 4.14 0 1 0 8.28 0a4.14 4.14 0 1 0 -8.28 0z
M383.62 312.14a2.49 2.49 0 1 0 4.98 0a2.49 2.49 0 1 0 -4.98 0z
M383.62 315.46a6.63 6.63 0 1 0 13.26 0a6.63 6.63 0 1 0 -13.26 0z
M395.22 316.29a2.49 2.49 0 1 0 4.98 0a2.49 2.49 0 1 0 -4.98 0z
M399.37 313.80a4.14 4.14 0 1 0 8.28 0a4.14 4.14 0 1 0 -8.28 0z
M409.98 312.97a0.99 0.99 0 1 0 1.98 0a0.99 0.99 0 1 0 -1.98 0z
M406.00 308.83a2.49 2.49 0 1 0 4.98 0a2.49 2.49 0 1 0 -4.98 0z
M414.79 308.83a1.16 1.16 0 1 0 2.32 0a1.16 1.16 0 1 0 -2.32 0z
M417.60 308.00a0.83 0.83 0 1 0 1.66 0a0.83 0.83 0 1 0 -1.66 0z
M419.26 320.43a4.64 4.64 0 1 0 9.28 0a4.64 4.64 0 1 0 -9.28 0z
M422.57 325.40a2.49 2.49 0 1 0 4.98 0a2.49 2.49 0 1 0 -4.98 0z
M429.21 319.60a4.14 4.14 0 1 0 8.28 0a4.14 4.14 0 1 0 -8.28 0z
M415.28 322.92a0.83 0.83 0 1 0 1.66 0a0.83 0.83 0 1 0 -1.66 0z
M394.40 325.40a7.46 7.46 0 1 0 14.92 0a7.46 7.46 0 1 0 -14.92 0z
M409.16 326.23a0.99 0.99 0 1 0 1.98 0a0.99 0.99 0 1 0 -1.98 0z
M380.47 327.06a0.83 0.83 0 1 0 1.66 0a0.83 0.83 0 1 0 -1.66 0z
M284.50 322.09a1.33 1.33 0 1 0 2.66 0a1.33 1.33 0 1 0 -2.66 0z
M291.47 322.92a0.99 0.99 0 1 0 1.98 0a0.99 0.99 0 1 0 -1.98 0z
M297.43 323.75a4.97 4.97 0 1 0 9.94 0a4.97 4.97 0 1 0 -9.94 0z
M301.58 327.06a6.63 6.63 0 1 0 13.26 0a6.63 6.63 0 1 0 -13.26 0z
M295.27 326.23a1.33 1.33 0 1 0 2.66 0a1.33 1.33 0 1 0 -2.66 0z
M323.13 332.86a4.14 4.14 0 1 0 8.28 0a4.14 4.14 0 1 0 -8.28 0z
M328.92 332.03a2.49 2.49 0 1 0 4.98 0a2.49 2.49 0 1 0 -4.98 0z
M336.05 329.55a2.82 2.82 0 1 0 5.64 0a2.82 2.82 0 1 0 -5.64 0z
M342.02 328.22a0.99 0.99 0 1 0 1.98 0a0.99 0.99 0 1 0 -1.98 0z
M346.33 331.21a4.97 4.97 0 1 0 9.94 0a4.97 4.97 0 1 0 -9.94 0z
M346.33 339.49a6.30 6.30 0 1 0 12.60 0a6.30 6.30 0 1 0 -12.60 0z
M282.52 337.01a5.80 5.80 0 1 0 11.60 0a5.80 5.80 0 1 0 -11.60 0z
M289.14 343.64a3.32 3.32 0 1 0 6.64 0a3.32 3.32 0 1 0 -6.64 0z
M282.51 341.98a2.49 2.49 0 1 0 4.98 0a2.49 2.49 0 1 0 -4.98 0z
M294.11 334.52a1.66 1.66 0 1 0 3.32 0a1.66 1.66 0 1 0 -3.32 0z
M296.60 343.64a15.75 15.75 0 1 0 31.50 0a15.75 15.75 0 1 0 -31.50 0z
M298.26 334.52a8.29 8.29 0 1 0 16.58 0a8.29 8.29 0 1 0 -16.58 0z
M336.38 343.14a1.66 1.66 0 1 0 3.32 0a1.66 1.66 0 1 0 -3.32 0z
M330.42 341.98a0.99 0.99 0 1 0 1.98 0a0.99 0.99 0 1 0 -1.98 0z
M377.82 333.36a1.66 1.66 0 1 0 3.32 0a1.66 1.66 0 1 0 -3.32 0z
M381.97 332.86a1.99 1.99 0 1 0 3.98 0a1.99 1.99 0 1 0 -3.98 0z
M378.65 337.50a1.33 1.33 0 1 0 2.66 0a1.33 1.33 0 1 0 -2.66 0z
M412.13 332.37a1.33 1.33 0 1 0 2.66 0a1.33 1.33 0 1 0 -2.66 0z
M407.16 337.34a1.82 1.82 0 1 0 3.64 0a1.82 1.82 0 1 0 -3.64 0z
M422.24 335.02a0.83 0.83 0 1 0 1.66 0a0.83 0.83 0 1 0 -1.66 0z
M425.73 338.17a0.66 0.66 0 1 0 1.32 0a0.66 0.66 0 1 0 -1.32 0z
M419.10 339.49a0.66 0.66 0 1 0 1.32 0a0.66 0.66 0 1 0 -1.32 0z
M430.87 334.02a2.65 2.65 0 1 0 5.30 0a2.65 2.65 0 1 0 -5.30 0z
M384.46 337.84a4.97 4.97 0 1 0 9.94 0a4.97 4.97 0 1 0 -9.94 0z
M393.56 339.00a3.32 3.32 0 1 0 6.64 0a3.32 3.32 0 1 0 -6.64 0z
M400.20 338.66a1.33 1.33 0 1 0 2.66 0a1.33 1.33 0 1 0 -2.66 0z
M382.29 344.47a2.49 2.49 0 1 0 4.98 0a2.49 2.49 0 1 0 -4.98 0z
M388.92 343.64a2.49 2.49 0 1 0 4.98 0a2.49 2.49 0 1 0 -4.98 0z
M396.05 346.12a1.99 1.99 0 1 0 3.98 0a1.99 1.99 0 1 0 -3.98 0z
M369.03 346.46a1.33 1.33 0 1 0 2.66 0a1.33 1.33 0 1 0 -2.66 0z
M288.81 349.44a2.49 2.49 0 1 0 4.98 0a2.49 2.49 0 1 0 -4.98 0z
M389.75 349.44a1.66 1.66 0 1 0 3.32 0a1.66 1.66 0 1 0 -3.32 0z
M385.28 352.42a1.33 1.33 0 1 0 2.66 0a1.33 1.33 0 1 0 -2.66 0z
M374.51 351.93a4.14 4.14 0 1 0 8.28 0a4.14 4.14 0 1 0 -8.28 0z
M399.37 352.42a3.32 3.32 0 1 0 6.64 0a3.32 3.32 0 1 0 -6.64 0z
M406.00 354.74a2.98 2.98 0 1 0 5.96 0a2.98 2.98 0 1 0 -5.96 0z
M392.90 355.57a1.66 1.66 0 1 0 3.32 0a1.66 1.66 0 1 0 -3.32 0z
M396.55 356.23a1.16 1.16 0 1 0 2.32 0a1.16 1.16 0 1 0 -2.32 0z
M416.94 358.89a2.98 2.98 0 1 0 5.96 0a2.98 2.98 0 1 0 -5.96 0z
M398.04 360.88a1.99 1.99 0 1 0 3.98 0a1.99 1.99 0 1 0 -3.98 0z
M314.83 356.07a3.32 3.32 0 1 0 6.64 0a3.32 3.32 0 1 0 -6.64 0z
M321.96 358.56a14.59 14.59 0 1 0 29.18 0a14.59 14.59 0 1 0 -29.18 0z
M350.88 360.71a12.85 12.85 0 1 0 25.70 0a12.85 12.85 0 1 0 -25.70 0z
M289.14 362.70a9.95 9.95 0 1 0 19.90 0a9.95 9.95 0 1 0 -19.90 0z
M282.51 365.19a6.63 6.63 0 1 0 13.26 0a6.63 6.63 0 1 0 -13.26 0z
M388.10 365.35a1.33 1.33 0 1 0 2.66 0a1.33 1.33 0 1 0 -2.66 0z
M380.15 366.84a2.98 2.98 0 1 0 5.96 0a2.98 2.98 0 1 0 -5.96 0z
M309.87 367.51a0.99 0.99 0 1 0 1.98 0a0.99 0.99 0 1 0 -1.98 0z
M312.19 373.47a5.30 5.30 0 1 0 10.60 0a5.30 5.30 0 1 0 -10.60 0z
M354.02 373.80a0.60 0.60 0 1 0 1.20 0a0.60 0.60 0 1 0 -1.20 0z
M338.37 374.14a1.33 1.33 0 1 0 2.66 0a1.33 1.33 0 1 0 -2.66 0z
M347.33 376.29a0.66 0.66 0 1 0 1.32 0a0.66 0.66 0 1 0 -1.32 0z
M405.01 374.80a1.99 1.99 0 1 0 3.98 0a1.99 1.99 0 1 0 -3.98 0z
M288.14 375.63a3.32 3.32 0 1 0 6.64 0a3.32 3.32 0 1 0 -6.64 0z
M305.22 377.12a2.82 2.82 0 1 0 5.64 0a2.82 2.82 0 1 0 -5.64 0z
M419.93 380.43a3.48 3.48 0 1 0 6.96 0a3.48 3.48 0 1 0 -6.96 0z
M326.11 380.93a1.49 1.49 0 1 0 2.98 0a1.49 1.49 0 1 0 -2.98 0z
M406.33 381.43a1.33 1.33 0 1 0 2.66 0a1.33 1.33 0 1 0 -2.66 0z
M401.02 382.42a1.33 1.33 0 1 0 2.66 0a1.33 1.33 0 1 0 -2.66 0z
M420.09 385.08a1.49 1.49 0 1 0 2.98 0a1.49 1.49 0 1 0 -2.98 0z
M296.94 381.43a0.99 0.99 0 1 0 1.98 0a0.99 0.99 0 1 0 -1.98 0z
M294.94 381.93a1.33 1.33 0 1 0 2.66 0a1.33 1.33 0 1 0 -2.66 0z
M316.16 383.92a0.83 0.83 0 1 0 1.66 0a0.83 0.83 0 1 0 -1.66 0z
M301.24 384.25a1.99 1.99 0 1 0 3.98 0a1.99 1.99 0 1 0 -3.98 0z
M288.32 383.75a2.98 2.98 0 1 0 5.96 0a2.98 2.98 0 1 0 -5.96 0z
M345.17 388.89a3.81 3.81 0 1 0 7.62 0a3.81 3.81 0 1 0 -7.62 0z
M342.19 390.55a0.99 0.99 0 1 0 1.98 0a0.99 0.99 0 1 0 -1.98 0z
M411.96 391.37a1.33 1.33 0 1 0 2.66 0a1.33 1.33 0 1 0 -2.66 0z
M304.06 389.22a4.64 4.64 0 1 0 9.28 0a4.64 4.64 0 1 0 -9.28 0z
M287.15 391.71a8.29 8.29 0 1 0 16.58 0a8.29 8.29 0 1 0 -16.58 0z
M285.83 385.90a4.14 4.14 0 1 0 8.28 0a4.14 4.14 0 1 0 -8.28 0z
M205.86 332.86a9.53 9.53 0 1 0 19.06 0a9.53 9.53 0 1 0 -19.06 0z
M332.66 273.95a5.80 5.80 0 1 0 11.60 0a5.80 5.80 0 1 0 -11.60 0z
M336.81 280.58a4.14 4.14 0 1 0 8.28 0a4.14 4.14 0 1 0 -8.28 0z
M303.65 395.93a6.63 6.63 0 1 0 13.26 0a6.63 6.63 0 1 0 -13.26 0z
M205.15 331.44a8.29 8.29 0 1 0 16.58 0a8.29 8.29 0 1 0 -16.58 0z
M298.67 329.50a10.36 10.36 0 1 0 20.72 0a10.36 10.36 0 1 0 -20.72 0z
M326.61 358.72a14.25 14.25 0 1 0 28.50 0a14.25 14.25 0 1 0 -28.50 0z"/>
<g stroke="#ffc000" fill="none" stroke-linejoin="miter">
<line x1="444.1" y1="89.5" x2="442.0" y2="480" stroke-width="2.1"/>
<polyline points="439.2,97 444.1,88.8 449,97" stroke-width="2.3" stroke-linecap="round"/>
<line x1="55" y1="285.9" x2="889.5" y2="285.9" stroke-width="2.1"/>
<polyline points="880.8,281.1 889.7,286.0 880.8,291.1" stroke-width="2.3" stroke-linecap="round"/>
</g>
<ellipse cx="694" cy="165.5" rx="4" ry="4.3" fill="#ed2846"/>
<circle cx="803" cy="143" r="2.6" fill="#4a63b0"/>
<text class="t" x="690.2" y="195" font-size="13" font-weight="bold" fill="#ee2a50" textLength="77.6" lengthAdjust="spacingAndGlyphs">华泰柏瑞富利</text>
<text class="t" x="145.7" y="31.2" font-size="21.5" font-weight="bold" fill="#000" stroke="#000" stroke-width="0.2" textLength="220.6" lengthAdjust="spacingAndGlyphs">2020/7/29~2023/3/31</text>
<text class="t" x="366.3" y="31.5" font-size="20" font-weight="bold" fill="#000" stroke="#000" stroke-width="0.35" textLength="379.3" lengthAdjust="spacingAndGlyphs">期间未更换基金经理的主动权益类基金表现</text>
<text class="t" x="375.6" y="59.1" font-size="16" font-weight="bold" fill="#000" stroke="#000" stroke-width="0.3" textLength="112.6" lengthAdjust="spacingAndGlyphs">区间年化收益率</text>
<text class="t" x="488.4" y="59.1" font-size="16" font-weight="bold" fill="#000" textLength="25.6" lengthAdjust="spacingAndGlyphs">(%)</text>
<text class="t" x="16.3" y="222.2" font-size="14.5" font-weight="bold" text-anchor="middle" fill="#000" stroke="#000" stroke-width="0.25">区</text>
<text class="t" x="16.3" y="245.0" font-size="14.5" font-weight="bold" text-anchor="middle" fill="#000" stroke="#000" stroke-width="0.25">间</text>
<text class="t" x="16.3" y="267.8" font-size="14.5" font-weight="bold" text-anchor="middle" fill="#000" stroke="#000" stroke-width="0.25">最</text>
<text class="t" x="16.3" y="290.8" font-size="14.5" font-weight="bold" text-anchor="middle" fill="#000" stroke="#000" stroke-width="0.25">大</text>
<text class="t" x="16.3" y="313.6" font-size="14.5" font-weight="bold" text-anchor="middle" fill="#000" stroke="#000" stroke-width="0.25">回</text>
<text class="t" x="16.3" y="335.5" font-size="14.5" font-weight="bold" text-anchor="middle" fill="#000" stroke="#000" stroke-width="0.25">撤</text>
<text class="t" x="16.3" y="344.0" font-size="15" font-weight="bold" text-anchor="middle" fill="#000" stroke="#000" stroke-width="0.5">︵</text>
<text class="t" x="16.3" y="362.4" font-size="15.5" font-weight="bold" text-anchor="middle" fill="#000" stroke="#000" stroke-width="0.3">%</text>
<text class="t" x="16.3" y="382.5" font-size="15" font-weight="bold" text-anchor="middle" fill="#000" stroke="#000" stroke-width="0.5">︶</text>
<text class="t" x="14.4" y="518" font-size="12" fill="#000" textLength="60.6" lengthAdjust="spacingAndGlyphs">数据来源：</text>
<text class="t" x="75.6" y="518" font-size="12" fill="#000" textLength="29.6" lengthAdjust="spacingAndGlyphs">Wind</text>
<text class="t" x="105.4" y="518" font-size="12" fill="#000" textLength="72" lengthAdjust="spacingAndGlyphs">。数据区间：</text>
<text class="t" x="177.6" y="518" font-size="12" fill="#000" textLength="126.6" lengthAdjust="spacingAndGlyphs">2020/7/29~2023/3/31</text>
<text class="t" x="304.4" y="518" font-size="12" fill="#000" textLength="144" lengthAdjust="spacingAndGlyphs">，圆点大小代表基金规模。</text>
<text class="t" x="732.1" y="512.1" font-size="22" font-weight="500" fill="#000" stroke="#000" stroke-width="0.9" textLength="44.5" lengthAdjust="spacingAndGlyphs">头条</text>
<text class="t" x="781.9" y="512.1" font-size="22" font-weight="500" fill="#000" stroke="#000" stroke-width="0.9" textLength="21.5" lengthAdjust="spacingAndGlyphs">@</text>
<text class="t" x="807.6" y="512.1" font-size="22" font-weight="500" fill="#000" stroke="#000" stroke-width="0.9" textLength="82" lengthAdjust="spacingAndGlyphs">小5论基</text>
<text class="t" x="731.0" y="510.9" font-size="22" font-weight="500" fill="#fff" textLength="44.5" lengthAdjust="spacingAndGlyphs">头条</text>
<text class="t" x="780.8" y="510.9" font-size="22" font-weight="500" fill="#fff" textLength="21.5" lengthAdjust="spacingAndGlyphs">@</text>
<text class="t" x="806.5" y="510.9" font-size="22" font-weight="500" fill="#fff" textLength="82" lengthAdjust="spacingAndGlyphs">小5论基</text>
</svg>
</body>
</html>
